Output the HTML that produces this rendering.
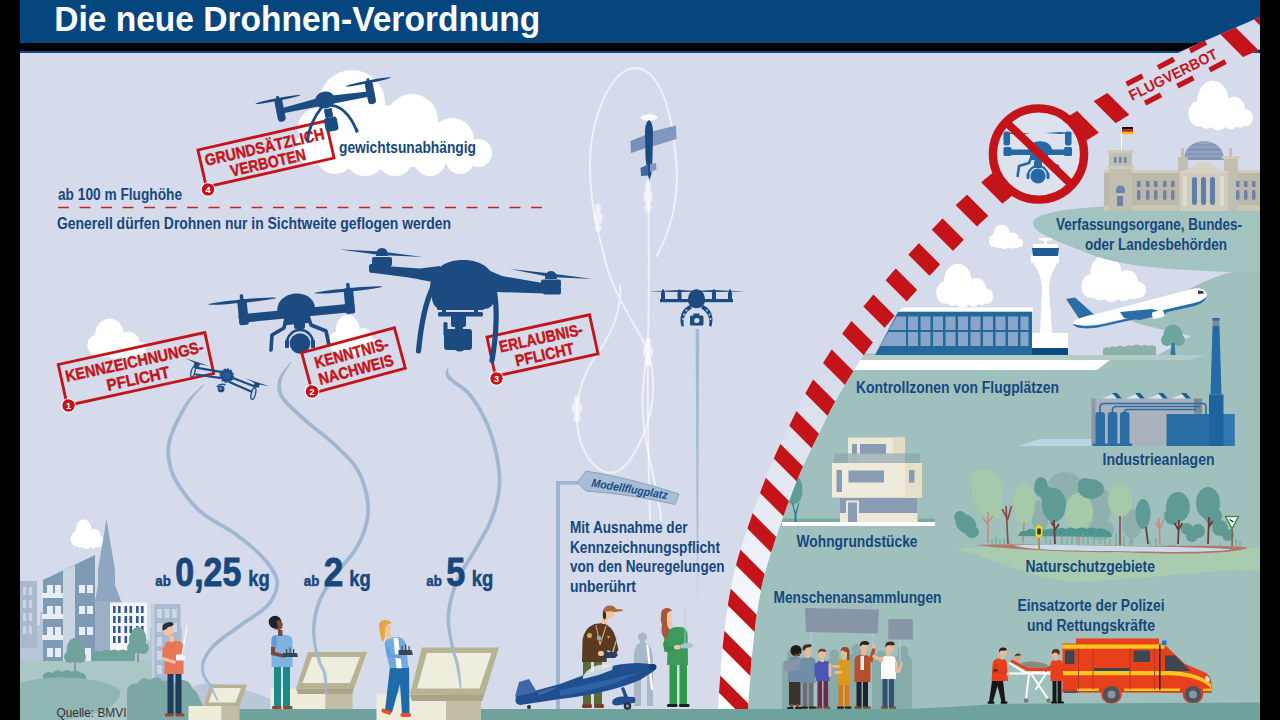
<!DOCTYPE html>
<html lang="de">
<head>
<meta charset="utf-8">
<title>Die neue Drohnen-Verordnung</title>
<style>
html,body{margin:0;padding:0;background:#000;}
body{width:1280px;height:720px;overflow:hidden;font-family:"Liberation Sans",sans-serif;}
svg{display:block;}
text{font-family:"Liberation Sans",sans-serif;}
.lbl{font-weight:bold;font-size:15.8px;fill:#17477d;}
.red{fill:#c4141a;}
.stamp{font-weight:bold;font-size:16.3px;fill:#c4141a;text-anchor:middle;stroke:#c4141a;stroke-width:0.45px;}
</style>
</head>
<body>
<svg width="1280" height="720" viewBox="0 0 1280 720">
<defs>
  <clipPath id="main"><rect x="20" y="0" width="1240" height="720"/></clipPath>
  <clipPath id="rightclip"><polygon points="733.0,716.0 733.0,714.4 733.1,712.9 733.1,711.3 733.2,709.8 733.2,708.2 733.2,706.7 733.3,705.1 733.3,703.5 733.4,701.8 733.5,700.0 733.6,698.2 733.7,696.3 733.9,694.5 734.0,692.6 734.2,690.6 734.3,688.6 734.5,686.5 734.7,684.4 734.8,682.2 735.0,680.0 735.2,677.8 735.3,675.5 735.5,673.3 735.6,671.0 735.8,668.7 736.0,666.2 736.2,663.6 736.4,660.8 736.7,657.8 737.0,654.5 737.4,650.9 737.8,647.0 738.2,642.9 738.7,638.5 739.1,634.0 739.7,629.5 740.2,624.9 740.8,620.4 741.4,616.0 742.0,611.8 742.6,607.6 743.3,603.5 744.0,599.5 744.7,595.4 745.5,591.4 746.2,587.5 747.1,583.5 747.9,579.6 748.8,575.6 749.8,571.8 750.8,567.9 751.8,564.0 752.9,560.2 754.1,556.4 755.3,552.7 756.5,548.9 757.7,545.2 758.9,541.4 760.2,537.7 761.4,534.0 762.6,530.3 763.9,526.6 765.1,522.9 766.4,519.3 767.7,515.6 769.0,512.0 770.3,508.3 771.6,504.7 772.9,501.1 774.3,497.5 775.7,493.9 777.0,490.3 778.4,486.7 779.9,483.0 781.3,479.4 782.7,475.9 784.2,472.3 785.6,468.8 787.1,465.3 788.6,461.9 790.1,458.5 791.6,455.2 793.2,451.9 794.7,448.7 796.3,445.4 797.8,442.2 799.4,439.0 801.0,435.8 802.6,432.6 804.2,429.4 805.8,426.1 807.4,422.9 809.0,419.6 810.6,416.4 812.2,413.1 813.8,409.8 815.4,406.6 817.1,403.4 818.8,400.2 820.5,397.0 822.2,393.9 824.0,390.7 825.8,387.6 827.6,384.5 829.4,381.5 831.2,378.4 833.1,375.4 835.0,372.3 836.8,369.3 838.8,366.2 840.7,363.2 842.6,360.1 844.6,357.1 846.6,354.0 848.6,351.0 850.6,347.9 852.6,345.0 854.6,342.0 856.7,339.1 858.8,336.2 860.8,333.5 862.9,330.7 865.0,328.1 867.2,325.4 869.3,322.8 871.4,320.2 873.6,317.7 875.7,315.1 877.9,312.6 880.0,310.0 882.1,307.4 884.2,304.9 886.3,302.4 888.4,299.9 890.5,297.4 892.7,294.9 894.8,292.5 896.9,290.0 899.1,287.5 901.2,285.0 903.4,282.5 905.6,280.0 907.9,277.5 910.1,275.0 912.3,272.5 914.6,270.0 916.9,267.5 919.1,265.0 921.4,262.5 923.8,260.0 926.1,257.5 928.4,255.0 930.7,252.5 933.1,250.0 935.5,247.5 937.9,245.0 940.2,242.5 942.6,240.0 945.1,237.5 947.5,235.0 949.9,232.5 952.3,230.0 954.7,227.6 957.1,225.1 959.5,222.6 962.0,220.1 964.5,217.6 967.1,215.1 969.7,212.6 972.5,210.0 975.4,207.4 978.3,204.7 981.4,202.0 984.5,199.3 987.7,196.6 990.9,193.8 994.2,191.1 997.4,188.4 1000.7,185.7 1004.0,183.0 1007.3,180.4 1010.6,177.8 1013.9,175.2 1017.3,172.6 1020.7,170.0 1024.1,167.4 1027.5,164.8 1031.0,162.2 1034.5,159.6 1038.0,157.0 1041.6,154.3 1045.2,151.6 1048.9,148.8 1052.6,146.1 1056.3,143.3 1060.0,140.5 1063.8,137.8 1067.5,135.1 1071.3,132.5 1075.0,130.0 1078.7,127.6 1082.5,125.2 1086.2,122.9 1090.0,120.7 1093.7,118.5 1097.5,116.3 1101.2,114.1 1105.0,111.9 1108.7,109.7 1112.5,107.5 1116.3,105.2 1120.0,102.9 1123.8,100.6 1127.6,98.3 1131.3,96.0 1135.1,93.8 1138.9,91.5 1142.6,89.3 1146.3,87.1 1150.0,85.0 1153.6,83.0 1157.0,81.0 1160.3,79.1 1163.6,77.3 1166.9,75.5 1170.3,73.6 1173.9,71.7 1177.6,69.8 1181.6,67.8 1186.0,65.7 1190.8,63.5 1195.9,61.1 1201.3,58.7 1206.9,56.3 1212.7,53.8 1218.5,51.3 1224.3,48.8 1230.1,46.3 1235.7,43.9 1241.0,41.6 1246.1,39.3 1251.2,37.1 1256.1,34.9 1261.0,32.8 1265.9,30.6 1270.7,28.5 1275.5,26.4 1280.3,24.3 1285.1,22.1 1290.0,20.0 1290.0,720.0"/></clipPath>
  <clipPath id="tapeclip"><polygon points="718.0,715.6 718.1,714.0 718.1,712.5 718.1,711.0 718.2,709.5 718.2,707.9 718.2,706.3 718.3,704.6 718.3,702.9 718.4,701.1 718.5,699.2 718.6,697.3 718.8,695.3 718.9,693.4 719.0,691.4 719.2,689.4 719.4,687.4 719.5,685.3 719.7,683.2 719.9,681.1 720.0,678.9 720.2,676.7 720.4,674.5 720.5,672.3 720.7,670.0 720.8,667.6 721.0,665.1 721.2,662.4 721.5,659.5 721.7,656.3 722.1,653.0 722.4,649.4 722.8,645.5 723.3,641.3 723.7,636.9 724.2,632.4 724.8,627.7 725.3,623.1 725.9,618.4 726.5,613.9 727.2,609.5 727.8,605.3 728.5,601.1 729.2,596.9 730.0,592.8 730.7,588.6 731.5,584.5 732.4,580.4 733.3,576.3 734.2,572.2 735.2,568.1 736.3,564.0 737.4,560.0 738.5,556.0 739.7,552.0 741.0,548.1 742.2,544.3 743.4,540.5 744.7,536.7 745.9,533.0 747.2,529.3 748.4,525.5 749.7,521.8 751.0,518.0 752.2,514.3 753.5,510.6 754.9,506.9 756.2,503.2 757.5,499.5 758.9,495.9 760.3,492.2 761.6,488.6 763.0,484.9 764.5,481.2 765.9,477.6 767.3,473.9 768.8,470.2 770.3,466.6 771.8,463.0 773.3,459.4 774.9,455.9 776.4,452.4 778.0,448.9 779.6,445.5 781.2,442.2 782.8,438.9 784.4,435.6 786.0,432.4 787.6,429.2 789.2,426.0 790.7,422.8 792.3,419.6 793.9,416.3 795.5,413.0 797.1,409.7 798.7,406.4 800.4,403.1 802.1,399.8 803.8,396.4 805.6,393.1 807.3,389.8 809.1,386.5 811.0,383.3 812.8,380.1 814.6,376.9 816.5,373.8 818.4,370.7 820.3,367.5 822.2,364.4 824.1,361.3 826.1,358.3 828.0,355.2 830.0,352.1 832.0,349.0 834.0,345.8 836.0,342.7 838.1,339.6 840.2,336.5 842.3,333.4 844.5,330.4 846.7,327.4 848.9,324.4 851.1,321.5 853.3,318.7 855.5,316.0 857.7,313.3 859.9,310.6 862.1,308.0 864.2,305.5 866.4,302.9 868.5,300.4 870.6,297.9 872.7,295.3 874.9,292.8 877.0,290.2 879.1,287.7 881.3,285.2 883.4,282.7 885.6,280.2 887.8,277.7 890.0,275.1 892.2,272.6 894.4,270.1 896.7,267.5 898.9,265.0 901.2,262.5 903.5,259.9 905.8,257.4 908.1,254.9 910.4,252.3 912.7,249.8 915.1,247.3 917.4,244.8 919.8,242.2 922.2,239.7 924.6,237.2 927.0,234.6 929.4,232.1 931.9,229.6 934.3,227.1 936.7,224.5 939.2,222.1 941.5,219.6 943.9,217.1 946.4,214.6 948.8,212.1 951.4,209.5 954.0,207.0 956.6,204.3 959.4,201.7 962.3,199.0 965.3,196.3 968.4,193.5 971.5,190.7 974.7,188.0 977.9,185.2 981.2,182.4 984.5,179.6 987.9,176.8 991.2,174.1 994.6,171.3 997.9,168.6 1001.3,165.9 1004.7,163.3 1008.2,160.7 1011.6,158.1 1015.0,155.4 1018.5,152.8 1022.0,150.2 1025.5,147.6 1029.0,145.0 1032.6,142.3 1036.2,139.6 1039.8,136.8 1043.6,134.0 1047.3,131.2 1051.2,128.4 1055.0,125.6 1058.9,122.9 1062.8,120.2 1066.7,117.5 1070.6,114.9 1074.6,112.5 1078.4,110.1 1082.3,107.8 1086.1,105.5 1089.9,103.3 1093.7,101.1 1097.4,99.0 1101.1,96.8 1104.8,94.6 1108.5,92.4 1112.2,90.1 1116.0,87.8 1119.8,85.5 1123.6,83.2 1127.4,80.9 1131.2,78.6 1135.0,76.4 1138.8,74.1 1142.5,72.0 1146.1,69.9 1149.6,68.0 1152.9,66.1 1156.3,64.2 1159.7,62.3 1163.2,60.4 1166.9,58.4 1170.8,56.4 1175.0,54.3 1179.6,52.2 1184.5,49.8 1189.7,47.5 1195.2,45.0 1200.9,42.5 1206.8,40.0 1212.6,37.5 1218.4,35.0 1224.2,32.6 1229.7,30.2 1235.0,27.9 1240.1,25.6 1245.1,23.4 1250.1,21.2 1255.0,19.1 1259.8,16.9 1264.6,14.8 1269.4,12.7 1274.2,10.6 1279.1,8.4 1283.9,6.3 1296.1,33.7 1291.2,35.9 1286.4,38.0 1281.5,40.1 1276.7,42.2 1271.9,44.4 1267.1,46.5 1262.2,48.7 1257.2,50.8 1252.2,53.1 1247.0,55.3 1241.6,57.7 1236.0,60.1 1230.3,62.6 1224.4,65.1 1218.6,67.6 1212.9,70.0 1207.3,72.5 1202.0,74.8 1197.0,77.1 1192.4,79.2 1188.2,81.3 1184.4,83.2 1180.8,85.1 1177.4,86.8 1174.1,88.6 1170.9,90.4 1167.7,92.2 1164.4,94.0 1161.0,96.0 1157.5,98.0 1153.8,100.1 1150.2,102.2 1146.6,104.4 1142.9,106.6 1139.1,108.9 1135.4,111.2 1131.6,113.5 1127.8,115.8 1124.0,118.1 1120.2,120.4 1116.4,122.7 1112.5,124.9 1108.8,127.1 1105.0,129.3 1101.3,131.4 1097.6,133.6 1094.0,135.8 1090.4,138.0 1086.8,140.2 1083.3,142.5 1079.7,144.9 1076.2,147.4 1072.5,150.0 1068.9,152.6 1065.2,155.3 1061.5,158.1 1057.9,160.8 1054.2,163.6 1050.6,166.3 1047.0,169.0 1043.4,171.7 1039.9,174.3 1036.5,176.8 1033.1,179.4 1029.7,181.9 1026.4,184.5 1023.1,187.0 1019.9,189.6 1016.6,192.1 1013.4,194.7 1010.2,197.3 1007.0,199.9 1003.8,202.6 1000.6,205.3 997.4,208.0 994.3,210.6 991.3,213.3 988.3,215.9 985.4,218.5 982.7,221.0 980.0,223.5 977.5,225.9 975.0,228.3 972.6,230.7 970.2,233.1 967.8,235.6 965.5,238.0 963.1,240.5 960.7,242.9 958.3,245.5 955.8,247.9 953.4,250.4 951.1,252.9 948.7,255.4 946.3,257.8 944.0,260.3 941.7,262.8 939.4,265.2 937.1,267.7 934.8,270.2 932.5,272.7 930.2,275.1 928.0,277.6 925.7,280.1 923.5,282.5 921.3,285.0 919.1,287.5 916.9,289.9 914.7,292.4 912.5,294.9 910.4,297.3 908.3,299.8 906.2,302.2 904.1,304.7 902.0,307.1 899.9,309.6 897.8,312.1 895.7,314.5 893.6,317.0 891.5,319.6 889.4,322.2 887.2,324.7 885.1,327.3 883.0,329.8 880.9,332.4 878.8,334.9 876.8,337.4 874.8,340.0 872.8,342.5 870.8,345.1 868.9,347.8 866.9,350.6 865.0,353.4 863.0,356.3 861.1,359.2 859.1,362.2 857.2,365.2 855.3,368.2 853.3,371.2 851.4,374.2 849.6,377.2 847.7,380.2 845.9,383.2 844.1,386.2 842.3,389.2 840.5,392.1 838.8,395.1 837.0,398.1 835.3,401.2 833.7,404.2 832.0,407.2 830.4,410.3 828.8,413.4 827.2,416.6 825.6,419.8 824.0,423.0 822.5,426.2 820.9,429.5 819.3,432.7 817.7,436.0 816.1,439.3 814.5,442.5 812.9,445.7 811.3,448.9 809.8,452.0 808.2,455.2 806.7,458.3 805.2,461.5 803.8,464.7 802.3,467.9 800.9,471.2 799.5,474.6 798.0,478.0 796.6,481.5 795.2,485.0 793.8,488.5 792.4,492.1 791.1,495.7 789.7,499.2 788.3,502.8 787.0,506.3 785.7,509.9 784.4,513.5 783.1,517.0 781.8,520.6 780.6,524.2 779.3,527.8 778.1,531.4 776.9,535.1 775.6,538.7 774.4,542.4 773.2,546.2 771.9,549.9 770.7,553.5 769.5,557.2 768.4,560.9 767.3,564.5 766.2,568.1 765.2,571.7 764.3,575.4 763.4,579.1 762.5,582.8 761.7,586.6 760.9,590.4 760.2,594.2 759.5,598.1 758.8,602.0 758.1,606.0 757.5,610.0 756.8,614.0 756.2,618.1 755.6,622.4 755.1,626.7 754.6,631.2 754.0,635.7 753.6,640.1 753.1,644.4 752.7,648.5 752.3,652.4 751.9,656.0 751.6,659.2 751.3,662.1 751.1,664.8 750.9,667.3 750.7,669.7 750.6,672.0 750.4,674.3 750.3,676.5 750.1,678.8 750.0,681.1 749.8,683.4 749.6,685.6 749.4,687.7 749.3,689.8 749.1,691.8 749.0,693.7 748.8,695.6 748.7,697.4 748.6,699.1 748.5,700.8 748.4,702.5 748.3,704.1 748.3,705.6 748.2,707.1 748.2,708.6 748.1,710.1 748.1,711.7 748.1,713.2 748.0,714.8 748.0,716.4"/></clipPath>
  <linearGradient id="tapebg" x1="0" y1="0" x2="0" y2="1" gradientUnits="objectBoundingBox">
    <stop offset="0" stop-color="#d5dbea"/>
    <stop offset="0.5" stop-color="#d5dbea"/>
    <stop offset="0.7" stop-color="#e6eaf3"/>
    <stop offset="0.9" stop-color="#fbfcfe"/>
    <stop offset="1" stop-color="#ffffff"/>
  </linearGradient>
  <linearGradient id="polefade" x1="0" y1="329" x2="0" y2="610" gradientUnits="userSpaceOnUse"><stop offset="0" stop-color="#a3b8d3"/><stop offset="0.7" stop-color="#a3b8d3" stop-opacity="0.9"/><stop offset="1" stop-color="#a3b8d3" stop-opacity="0"/></linearGradient>
  <g id="cloud">
    <circle cx="38" cy="24" r="23"/><circle cx="69" cy="37" r="17"/><circle cx="17" cy="40" r="15"/><circle cx="46" cy="45" r="15"/><circle cx="87" cy="45" r="10"/><circle cx="29" cy="45" r="13"/><circle cx="64" cy="47" r="12"/><circle cx="78" cy="47" r="10"/>
  </g>
</defs>
<rect x="0" y="0" width="1280" height="720" fill="#000"/>
<g clip-path="url(#main)">
<!-- sky -->
<rect x="20" y="0" width="1240" height="720" fill="#d5dbea"/>

<!-- teal flight-ban zone -->
<polygon points="748.0,716.4 748.0,714.8 748.1,713.2 748.1,711.7 748.1,710.1 748.2,708.6 748.2,707.1 748.3,705.6 748.3,704.1 748.4,702.5 748.5,700.8 748.6,699.1 748.7,697.4 748.8,695.6 749.0,693.7 749.1,691.8 749.3,689.8 749.4,687.7 749.6,685.6 749.8,683.4 750.0,681.1 750.1,678.8 750.3,676.5 750.4,674.3 750.6,672.0 750.7,669.7 750.9,667.3 751.1,664.8 751.3,662.1 751.6,659.2 751.9,656.0 752.3,652.4 752.7,648.5 753.1,644.4 753.6,640.1 754.0,635.7 754.6,631.2 755.1,626.7 755.6,622.4 756.2,618.1 756.8,614.0 757.5,610.0 758.1,606.0 758.8,602.0 759.5,598.1 760.2,594.2 760.9,590.4 761.7,586.6 762.5,582.8 763.4,579.1 764.3,575.4 765.2,571.7 766.2,568.1 767.3,564.5 768.4,560.9 769.5,557.2 770.7,553.5 771.9,549.9 773.2,546.2 774.4,542.4 775.6,538.7 776.9,535.1 778.1,531.4 779.3,527.8 780.6,524.2 781.8,520.6 783.1,517.0 784.4,513.5 785.7,509.9 787.0,506.3 788.3,502.8 789.7,499.2 791.1,495.7 792.4,492.1 793.8,488.5 795.2,485.0 796.6,481.5 798.0,478.0 799.5,474.6 800.9,471.2 802.3,467.9 803.8,464.7 805.2,461.5 806.7,458.3 808.2,455.2 809.8,452.0 811.3,448.9 812.9,445.7 814.5,442.5 816.1,439.3 817.7,436.0 819.3,432.7 820.9,429.5 822.5,426.2 824.0,423.0 825.6,419.8 827.2,416.6 828.8,413.4 830.4,410.3 832.0,407.2 833.7,404.2 835.3,401.2 837.0,398.1 838.8,395.1 840.5,392.1 842.3,389.2 844.1,386.2 845.9,383.2 847.7,380.2 849.6,377.2 851.4,374.2 853.3,371.2 855.3,368.2 857.2,365.2 859.1,362.2 861.1,359.2 863.0,356.3 865.0,353.4 1260.0,357.0 1260.0,720.0 733.0,720.0" fill="#9fc0bd"/>
<path d="M1260 268 L1232 272 C1205 279 1192 288 1172 299 C1152 308 1130 313 1127 319 C1140 326 1172 331 1191 336 C1176 344 1166 352 1150 358 L1260 358 Z" fill="#9fc0bd"/>
<!--SKYSTART-->
<!-- ===== clouds ===== -->
<g fill="#fff">
  <!-- big cloud behind drone 4 -->
  <circle cx="352" cy="103" r="33"/><circle cx="318" cy="128" r="20"/><circle cx="312" cy="148" r="17"/>
  <circle cx="335" cy="155" r="19"/><circle cx="365" cy="155" r="21"/><circle cx="395" cy="158" r="18"/>
  <circle cx="412" cy="120" r="26"/><circle cx="430" cy="160" r="16"/><circle cx="452" cy="140" r="22"/>
  <circle cx="478" cy="153" r="14"/><circle cx="460" cy="160" r="14"/><rect x="320" y="122" width="120" height="45"/><circle cx="385" cy="125" r="20"/>
  <!-- cloud behind stamp 1 -->
  <use href="#cloud" transform="translate(86,318) scale(0.62,0.68)"/>
  <!-- cloud behind stamp 2 -->
  <use href="#cloud" transform="translate(328,314) scale(0.52,0.7)"/>
  <!-- city cloud -->
  <use href="#cloud" transform="translate(70,519) scale(0.36,0.5)"/>
  <!-- top right cloud -->
  <use href="#cloud" transform="translate(1187,80) scale(0.68,0.84)"/>
  <!-- small cloud -->
  <use href="#cloud" transform="translate(988,224) scale(0.36,0.42)"/>
  <!-- airport clouds -->
  <use href="#cloud" transform="translate(935,263) scale(0.6,0.74)"/>
  <use href="#cloud" transform="translate(1080,254) scale(0.68,0.8)"/>
</g>
<!-- ===== Reichstag blob ===== -->
<path d="M1033 222 C1040 206 1120 204 1260 204 L1260 272 L1232 272 C1180 270 1120 268 1085 252 C1060 242 1030 232 1033 222Z" fill="#a3c3c0"/>
<!-- Reichstag -->
<g>
  <rect x="1121" y="127" width="1" height="24" fill="#fff"/>
  <rect x="1122" y="127" width="11" height="2.4" fill="#111"/><rect x="1122" y="129.4" width="11" height="2.4" fill="#d0101a"/><rect x="1122" y="131.8" width="11" height="2.4" fill="#f2c200"/>
  <!-- dome -->
  <path d="M1184 160 C1184 135 1224 135 1224 160Z" fill="#8497b6"/>
  <path d="M1186 152h36M1185 156h38M1189 147h30M1194 143h20" stroke="#a9b8d0" stroke-width="0.8"/>
  <!-- main body -->
  <rect x="1104" y="170" width="156" height="41" fill="#bcb8a9"/>
  <rect x="1104" y="170" width="156" height="3" fill="#cfcbbd"/>
  <rect x="1104" y="205" width="156" height="6" fill="#c9c5b7"/>
  <!-- left tower -->
  <rect x="1109" y="151" width="23" height="60" fill="#c2beb0"/>
  <rect x="1107" y="150" width="27" height="3" fill="#cfcbbd"/>
  <rect x="1107" y="166" width="27" height="3" fill="#cfcbbd"/>
  <rect x="1114" y="157" width="2.5" height="6" fill="#6b84a8"/><rect x="1119" y="157" width="2.5" height="6" fill="#6b84a8"/><rect x="1124" y="157" width="2.5" height="6" fill="#6b84a8"/>
  <path d="M1116 190 a4.5 4.5 0 0 1 9 0 v3 h-9z" fill="#6b84a8"/>
  <rect x="1117" y="196" width="6" height="10" fill="#6b84a8"/>
  <!-- right tower -->
  <rect x="1224" y="157" width="14" height="54" fill="#c2beb0"/>
  <rect x="1222" y="156" width="18" height="3" fill="#cfcbbd"/>
  <rect x="1229" y="148" width="3" height="9" fill="#c2beb0"/>
  <rect x="1178" y="157" width="10" height="54" fill="#c2beb0"/>
  <rect x="1181" y="148" width="3" height="9" fill="#c2beb0"/>
  <!-- portico -->
  <rect x="1180" y="172" width="48" height="39" fill="#cfcbbd"/>
  <path d="M1178 173 L1204 161 L1230 173Z" fill="#d6d2c5"/>
  <rect x="1192" y="177" width="5" height="28" rx="2.5" fill="#5f7ea8"/><rect x="1201" y="177" width="5" height="28" rx="2.5" fill="#5f7ea8"/><rect x="1210" y="177" width="5" height="28" rx="2.5" fill="#5f7ea8"/>
  <rect x="1183" y="176" width="4" height="30" fill="#dedacd"/><rect x="1220" y="176" width="4" height="30" fill="#dedacd"/>
  <!-- windows rows -->
  <g fill="#6b84a8">
    <rect x="1137" y="181" width="3.5" height="6"/><rect x="1146" y="181" width="3.5" height="6"/><rect x="1154" y="181" width="3.5" height="6"/><rect x="1163" y="181" width="3.5" height="6"/><rect x="1171" y="181" width="3.5" height="6"/>
    <rect x="1137" y="190" width="3.5" height="10" rx="1.7"/><rect x="1146" y="190" width="3.5" height="10" rx="1.7"/><rect x="1154" y="190" width="3.5" height="10" rx="1.7"/><rect x="1163" y="190" width="3.5" height="10" rx="1.7"/><rect x="1171" y="190" width="3.5" height="10" rx="1.7"/>
    <rect x="1236" y="181" width="3.5" height="6"/><rect x="1244" y="181" width="3.5" height="6"/><rect x="1252" y="181" width="3.5" height="6"/>
    <rect x="1236" y="190" width="3.5" height="10" rx="1.7"/><rect x="1244" y="190" width="3.5" height="10" rx="1.7"/><rect x="1252" y="190" width="3.5" height="10" rx="1.7"/>
  </g>
</g>
<text class="lbl" x="1056" y="230" textLength="186" lengthAdjust="spacingAndGlyphs">Verfassungsorgane, Bundes-</text>
<text class="lbl" x="1085" y="250" textLength="142" lengthAdjust="spacingAndGlyphs">oder Landesbehörden</text>

<!-- ===== airport ===== -->
<g>
  <!-- tower -->
  <path d="M1040 333 L1042 290 C1042 275 1036 268 1033 262 L1058 262 C1055 268 1049 275 1049 290 L1052 333Z" fill="#fff"/>
  <rect x="1031" y="255" width="28" height="8" fill="#fff"/>
  <path d="M1032 248 h27 l-1 8 h-25z" fill="#1d5c94"/>
  <rect x="1033" y="244" width="25" height="4" fill="#fff"/>
  <rect x="1044" y="239" width="3" height="6" fill="#fff"/><rect x="1039" y="238" width="13" height="2.5" rx="1" fill="#fff"/>
  <rect x="1031" y="333" width="37" height="15" fill="#fff"/>
  <rect x="1031" y="348" width="37" height="7" fill="#0d4a80"/>
  <!-- building -->
  <polygon points="898,311.5 1032,311.5 1032,355 875,355" fill="#23699c"/>
  <polygon points="902,307.5 1033,307.5 1033,311.5 898,311.5" fill="#fff"/>
  <g fill="#89a5c9">
    <polygon points="896.5,316.5 906,316.5 906,330 889,330"/>
    <rect x="908" y="316.5" width="10" height="13.5"/><rect x="920.5" y="316.5" width="10" height="13.5"/><rect x="933" y="316.5" width="10" height="13.5"/><rect x="945.5" y="316.5" width="10" height="13.5"/><rect x="958" y="316.5" width="10" height="13.5"/><rect x="970.5" y="316.5" width="10" height="13.5"/><rect x="983" y="316.5" width="10" height="13.5"/><rect x="995.5" y="316.5" width="10" height="13.5"/><rect x="1008" y="316.5" width="10" height="13.5"/><rect x="1020.5" y="316.5" width="8" height="13.5"/>
    <polygon points="888,332 906,332 906,346 880,346"/>
    <rect x="908" y="332" width="10" height="14"/><rect x="920.5" y="332" width="10" height="14"/><rect x="933" y="332" width="10" height="14"/><rect x="945.5" y="332" width="10" height="14"/><rect x="958" y="332" width="10" height="14"/><rect x="970.5" y="332" width="10" height="14"/><rect x="983" y="332" width="10" height="14"/><rect x="995.5" y="332" width="10" height="14"/><rect x="1008" y="332" width="10" height="14"/><rect x="1020.5" y="332" width="8" height="14"/>
  </g>
  <!-- hedge + tree -->
  <path d="M1103 355 v-6 q3 -3 6 -1 q3 -3 7 -1 q4 -3 8 0 q4 -3 8 -1 q5 -3 9 0 q4 -2 8 0 q4 -2 7 1 v8z" fill="#8cb1a9"/>
  <ellipse cx="1173" cy="335" rx="9.5" ry="10.5" fill="#6ea59e"/><circle cx="1167" cy="340" r="6" fill="#6ea59e"/><circle cx="1179" cy="340" r="6" fill="#6ea59e"/>
  <path d="M1171.5 343 h3 l1 12 h-5z" fill="#2b7c9a"/>
</g>
<!-- airport ground strips -->
<polygon points="700,355 1205,355 1190,360 700,360" fill="#b4ccc8" clip-path="url(#rightclip)"/>
<!-- plane -->
<g>
  <path d="M1066 299 L1075 297.5 L1098 318 L1082 323Z" fill="#2a6da8"/>
  <path d="M1073 323 C1074 319 1085 316 1100 313 L1192 289 C1200 287 1206 290 1207 295 C1206 300 1200 302 1190 304 L1100 324 C1085 327 1072 327 1073 323Z" fill="#fff"/>
  <path d="M1073 324 C1085 327 1095 326 1110 322.5 L1190 304 C1200 302 1205 299 1207 296 C1205 302 1200 305 1190 307 L1100 327 C1085 330 1074 328 1073 324Z" fill="#2a6da8"/>
  <path d="M1120 312 L1152 309 L1168 313 L1140 320 L1124 318Z" fill="#2a6da8"/>
  <rect x="1152" y="311" width="12" height="7" rx="2" fill="#fff" transform="rotate(-14 1158 314)"/>
  <path d="M1198 290.5 l5 0.5 l1 2.5 l-6 0.5z" fill="#1d3d66"/>
</g>
<!--SKYEND-->
<!--TEALSTART-->
<!-- airport apron -->
<polygon points="700,360 1110,360 1097,370 700,370" fill="#fff" clip-path="url(#rightclip)"/>
<text class="lbl" x="856" y="393" textLength="203" lengthAdjust="spacingAndGlyphs">Kontrollzonen von Flugplätzen</text>

<!-- ===== factory ===== -->
<g>
  <polygon points="1018,446 1040,439 1092,439 1092,446" fill="#bcd5e3"/>
  <rect x="1091.5" y="398.5" width="111" height="47.5" fill="#a9b1ba"/>
  <rect x="1091.5" y="398.5" width="4" height="47.5" fill="#8d98a5"/>
  <!-- sawtooth roof -->
  <g>
    <polygon points="1102,398.5 1116,393 1122,398.5" fill="#d7e4f2"/><polygon points="1112,393 1117,393 1122,398.5 1117,398.5" fill="#1d5c94"/>
    <polygon points="1125,398.5 1139,393 1145,398.5" fill="#d7e4f2"/><polygon points="1135,393 1140,393 1145,398.5 1140,398.5" fill="#1d5c94"/>
    <polygon points="1148,398.5 1162,393 1168,398.5" fill="#d7e4f2"/><polygon points="1158,393 1163,393 1168,398.5 1163,398.5" fill="#1d5c94"/>
    <polygon points="1171,398.5 1185,393 1191,398.5" fill="#d7e4f2"/><polygon points="1181,393 1186,393 1191,398.5 1186,398.5" fill="#1d5c94"/>
  </g>
  <rect x="1194" y="398.5" width="8" height="15" fill="#7f8791"/>
  <!-- pipes -->
  <g fill="none" stroke="#2a6ea6" stroke-width="1.6">
    <path d="M1100 413 V407 Q1100 403.5 1104 403.5 H1203 Q1206 403.5 1206 407 V414"/>
    <path d="M1112.5 413 V409.5 Q1112.5 406.5 1116 406.5 H1200"/>
    <path d="M1124.5 413 V412 Q1124.5 409.5 1128 409.5 H1196"/>
  </g>
  <!-- tanks -->
  <g fill="#2a6ea6">
    <rect x="1095.5" y="412" width="9.5" height="34" rx="3"/><rect x="1107.8" y="412" width="9.5" height="34" rx="3"/><rect x="1120" y="412" width="9.5" height="34" rx="3"/>
    <rect x="1093" y="443.5" width="39" height="2.5"/>
  </g>
  <rect x="1166.5" y="414" width="68" height="32" fill="#2a6ea6"/>
  <rect x="1223" y="414" width="11.5" height="32" fill="#2f78b2"/>
  <!-- chimney -->
  <polygon points="1212.5,326 1219.5,326 1221.5,394.5 1210.5,394.5" fill="#256ba6"/>
  <rect x="1212.5" y="318" width="7" height="8" fill="#7d8c9d"/><rect x="1212.5" y="318" width="7" height="2.5" fill="#256ba6"/>
  <rect x="1209" y="394.5" width="14.5" height="51.5" fill="#1f639c"/>
</g>
<text class="lbl" x="1102.5" y="464.5" textLength="112" lengthAdjust="spacingAndGlyphs">Industrieanlagen</text>

<!-- ===== house ===== -->
<g>
  <rect x="782" y="518.5" width="153" height="3.5" fill="#7fa9a5"/>
  <rect x="782" y="522" width="153" height="4" fill="#fff"/>
  <!-- tree -->
  <ellipse cx="796" cy="490" rx="6.5" ry="13.5" fill="#5f9d97"/><ellipse cx="793" cy="496" rx="5" ry="9" fill="#5f9d97"/>
  <path d="M793 503 L795.5 512 L798.5 503 L799.5 503 L796.5 514 L796.5 522 L794.5 522 L794.5 514 L792 503Z" fill="#2b7c9a"/>
  <!-- top floor -->
  <rect x="848" y="437.5" width="57" height="26" fill="#ece8d6"/><rect x="893" y="437.5" width="12" height="26" fill="#e2dcc4"/>
  <rect x="860" y="444" width="26" height="10.5" fill="#8a9cb3"/><rect x="852" y="444" width="5" height="18.5" fill="#8a9cb3"/>
  <!-- railing -->
  <rect x="834" y="453.5" width="86" height="9.5" fill="#8fa9ae" opacity="0.85"/>
  <rect x="848" y="453.5" width="57" height="9.5" fill="#b9c3c4" opacity="0.55"/>
  <!-- middle floor -->
  <rect x="832" y="463" width="90" height="34.5" fill="#efebda"/><rect x="905" y="463" width="17" height="34.5" fill="#e6e0c9"/>
  <rect x="848.5" y="470.5" width="35.5" height="12" fill="#8a9cb3"/>
  <rect x="836.5" y="470" width="5.5" height="22" fill="#8a9cb3"/>
  <rect x="909" y="470" width="5.5" height="12.5" fill="#8a9cb3"/>
  <!-- ground floor -->
  <rect x="840" y="497.5" width="77.5" height="24.5" fill="#ece8d6"/>
  <rect x="840" y="498" width="77.5" height="15" fill="#8a9cb3"/>
  <rect x="846" y="500.5" width="13" height="21.5" fill="#ece8d6"/><rect x="848" y="502.5" width="9" height="19.5" fill="#8a9cb3"/>
</g>
<text class="lbl" x="796.5" y="547" textLength="121" lengthAdjust="spacingAndGlyphs">Wohngrundstücke</text>
<text class="lbl" x="773.5" y="602.5" textLength="168" lengthAdjust="spacingAndGlyphs">Menschenansammlungen</text>

<!-- ===== nature reserve ===== -->
<g>
  <path d="M954 549 C990 545 1100 546 1260 548 L1260 571 C1200 568 1140 582 1075 581 C1030 580 990 556 954 549Z" fill="#a9ccb1"/>
  <!-- back trees grey-teal -->
  <g fill="#8fb1ae">
    <ellipse cx="1065" cy="486" rx="17" ry="14"/><ellipse cx="1058" cy="500" rx="12" ry="14"/><ellipse cx="1100" cy="506" rx="12" ry="19"/><ellipse cx="1100" cy="530" rx="14" ry="10"/>
    <ellipse cx="1132" cy="524" rx="10" ry="15"/><ellipse cx="1040" cy="516" rx="9" ry="16"/>
    <rect x="1098.5" y="520" width="3" height="24"/><rect x="1131" y="530" width="2.5" height="15"/>
  </g>
  <!-- light green trees -->
  <g fill="#a6caa9">
    <ellipse cx="987" cy="492" rx="15" ry="22"/><ellipse cx="980" cy="480" rx="10" ry="10"/><ellipse cx="993" cy="510" rx="10" ry="10"/>
    <ellipse cx="1024" cy="504" rx="11" ry="20"/><ellipse cx="1079" cy="512" rx="14" ry="19"/><ellipse cx="1120" cy="500" rx="12" ry="17"/>
  </g>
  <g stroke="#c98a7a" stroke-width="1.6" fill="none">
    <path d="M988 512 L988 543 M988 525 l-5 -7 M988 522 l5 -6"/><path d="M1024 522 L1023 543"/><path d="M1079 528 V545"/>
    <path d="M1159 518 l1 27 M1160 528 l4 -9 M1160 530 l-4 -8"/>
  </g>
  <g stroke="#8c4a44" stroke-width="1.6" fill="none">
    <path d="M1006 506 l2 38 M1007.5 520 l4 -14 M1007 518 l-5 -9"/><path d="M1120 516 V545"/>
  </g>
  <!-- teal trees -->
  <g fill="#5f9a95">
    <ellipse cx="966" cy="524" rx="11" ry="9" transform="rotate(35 966 524)"/><ellipse cx="960" cy="517" rx="6" ry="6"/><ellipse cx="972" cy="532" rx="7" ry="6"/>
    <ellipse cx="1041" cy="487" rx="7" ry="10"/><ellipse cx="1054" cy="505" rx="12" ry="17"/><ellipse cx="1048" cy="495" rx="8" ry="8"/>
    <ellipse cx="1091" cy="489" rx="13" ry="10"/><ellipse cx="1085" cy="484" rx="7" ry="6"/>
    <ellipse cx="1143" cy="514" rx="7.5" ry="15"/><ellipse cx="1178" cy="507" rx="12" ry="15"/><ellipse cx="1173" cy="516" rx="9" ry="9"/>
    <ellipse cx="1208" cy="503" rx="12" ry="16"/><ellipse cx="1213" cy="516" rx="9" ry="9"/>
    <circle cx="1187" cy="529" r="6"/><circle cx="1198" cy="531" r="7"/><circle cx="1220" cy="528" r="8"/><circle cx="1228" cy="535" r="6"/><circle cx="1192" cy="536" r="6"/>
    <path d="M1018 536 q2 -6 8 -5 q4 -4 9 -1 q5 -3 10 0 q6 -3 11 0 q5 -4 10 -1 q5 -3 10 0 q6 -3 11 0 q5 -3 10 0 q5 -2 9 1 q5 1 6 7z" fill="#4f948e"/>
  </g>
  <g stroke="#6b3b3b" stroke-width="1.8" fill="none">
    <path d="M1054 520 l1 24 M1055 530 l4 -6 M1055 528 l-4 -6"/><path d="M1146 527 l2 17"/><path d="M1179 520 l-1 24 M1178.500 530 l4 -7 M1178.500 530 l-4 -7"/><path d="M1209 517 l-1 27 M1208.500 528 l4 -7"/>
  </g>
  <!-- reeds -->
  <g stroke="#6fa58f" stroke-width="1">
    <path d="M992 548v-9M996 548v-11M1000 548v-8M1004 548v-10M1010 548v-7M1046 548v-12M1050 548v-9M1062 548v-14M1067 548v-10M1072 548v-15M1077 548v-12M1083 548v-16M1088 548v-13M1094 548v-15M1105 548v-14M1110 548v-10M1116 548v-15M1124 548v-12M1130 548v-9M1150 548v-8M1156 548v-10M1170 552v-8M1174 552v-7M1215 552v-7M1220 552v-9M1236 548v-9M1240 548v-7"/>
  </g>
  <!-- water -->
  <path d="M976 545 C1000 548 1060 553 1120 552 C1180 555 1230 554 1248 548 C1240 545 1180 546 1140 546 C1080 545 1010 544 976 545Z" fill="#b5766a"/>
  <path d="M1014 545.500 C1050 543.500 1100 546 1140 546.500 C1180 547 1220 548 1232 549.500 C1200 553 1150 552 1110 551 C1070 551 1030 550 1014 545.500Z" fill="#c9dcec"/>
  <!-- signs -->
  <rect x="1038" y="536" width="2" height="14" fill="#b98a5a"/>
  <path d="M1035.500 527.500 l3.500 -3 l3.500 3 v8 l-3.500 2.500 l-3.500 -2.500z" fill="#f6db00"/><rect x="1037.200" y="528.500" width="3.600" height="6" rx="1" fill="#2b2b2b"/>
  <rect x="1231.300" y="528" width="1.600" height="18" fill="#8c6a4a"/>
  <polygon points="1225.500,516.500 1238.500,516.500 1232,528.500" fill="#fff" stroke="#3d8f4a" stroke-width="1.500"/>
  <path d="M1229.500 519.500 l4 2.500" stroke="#222" stroke-width="1.200"/>
</g>
<text class="lbl" x="1025.500" y="571.500" textLength="129.500" lengthAdjust="spacingAndGlyphs">Naturschutzgebiete</text>
<text class="lbl" x="1017.500" y="610.500" textLength="147" lengthAdjust="spacingAndGlyphs">Einsatzorte der Polizei</text>
<text class="lbl" x="1027" y="630.500" textLength="128" lengthAdjust="spacingAndGlyphs">und Rettungskräfte</text>
<!--TEALEND-->
<!--TEAL2START-->
<!-- ===== crowd ===== -->
<g>
  <!-- shadows -->
  <g fill="#86aba9">
    <path d="M782 709 v-40 q0 -8 5 -9 v-6 a4.500 4.500 0 0 1 9 0 v6 q6 1 6 9 v40z"/>
    <path d="M826 709 v-44 q0 -6 5 -7 a5 5 0 1 1 7 0 q5 1 5 7 v44z"/>
    <path d="M848 709 v-48 q0 -7 5 -8 a5.500 5.500 0 1 1 8 0 q5 1 5 8 v48z"/>
    <path d="M872 709 v-42 q0 -7 5 -8 a5 5 0 1 1 8 0 q5 1 5 8 v42z"/>
    <path d="M894 709 v-46 q0 -7 5 -8 a5.500 5.500 0 1 1 8 0 q5 1 5 8 v46z"/>
  </g>
  <!-- banners -->
  <rect x="810.300" y="632" width="1.400" height="24" fill="#b9c4cf"/><rect x="871.600" y="632" width="1.400" height="18" fill="#b9c4cf"/>
  <polygon points="805,608 879,609.500 877.500,633.500 806,632" fill="#8795a6"/>
  <rect x="899.300" y="639" width="1.400" height="24" fill="#b9c4cf"/>
  <rect x="888.300" y="619" width="24.500" height="20.500" fill="#8795a6"/>
  <!-- person 1: dark skin, afro, grey-blue top, dark skirt -->
  <g>
    <rect x="789" y="680" width="11.500" height="25" fill="#3a302c"/>
    <rect x="790" y="704" width="3" height="4" fill="#7a4a3a"/><rect x="796" y="704" width="3" height="4" fill="#7a4a3a"/>
    <rect x="787" y="707" width="6.500" height="2" rx="1" fill="#222"/><rect x="795" y="707" width="6.500" height="2" rx="1" fill="#222"/>
    <path d="M788 682 v-20 q0 -5 5 -5 h4 q5 0 5 5 v20z" fill="#6f8da6"/>
    <circle cx="796.500" cy="652.500" r="4" fill="#7a4a3a"/>
    <circle cx="796" cy="650.500" r="5.600" fill="#1c1c1c"/>
    <path d="M794 653 a3.500 3.500 0 0 0 6 -1 v4 h-5z" fill="#7a4a3a"/>
    <polygon points="783.500,661.500 800,658.500 802,669 784.500,672" fill="#8795a6"/>
  </g>
  <!-- person 2 grey-blue sweater -->
  <g>
    <rect x="802.500" y="680" width="5" height="27" fill="#6a7078"/><rect x="808.500" y="680" width="5" height="27" fill="#6a7078"/>
    <rect x="800.500" y="706.500" width="7.500" height="2.300" rx="1" fill="#222"/><rect x="808.500" y="706.500" width="7.500" height="2.300" rx="1" fill="#222"/>
    <path d="M800.500 683 v-20 q0 -6 5 -6 h5 q5 0 5 6 v20z" fill="#6d8ea6"/>
    <rect x="805.500" y="653" width="4" height="5" fill="#e9b99a"/>
    <circle cx="807" cy="650" r="4.200" fill="#e9b99a"/>
    <path d="M802.500 649.500 q0 -5.500 5 -5 q3 -1.500 4.500 1 q-1 2 -4 2 q-3 0 -3.500 3.500z" fill="#3d2b26"/>
  </g>
  <!-- person 3 blue shirt maroon trousers -->
  <g>
    <rect x="817.500" y="679" width="4.600" height="28" fill="#6d2a4a"/><rect x="823.500" y="679" width="4.600" height="28" fill="#6d2a4a"/>
    <rect x="816" y="706.500" width="7" height="2.300" rx="1" fill="#7a4a3a"/><rect x="823.500" y="706.500" width="7" height="2.300" rx="1" fill="#7a4a3a"/>
    <path d="M816 681 v-15 q0 -5 4 -5 h5.500 q4 0 4 5 v15z" fill="#4a55b5"/>
    <rect x="814.500" y="663" width="3" height="14" rx="1.500" fill="#4a55b5"/><rect x="828.500" y="663" width="3" height="14" rx="1.500" fill="#e9b99a"/>
    <rect x="820.500" y="657" width="3.500" height="5" fill="#e9b99a"/>
    <circle cx="822" cy="654" r="4" fill="#e9b99a"/>
    <path d="M817.800 653.500 q0 -5 4.500 -4.800 q3.500 0 4 3 q-3 0 -5 -0.500 q-2 0 -3.500 2.300z" fill="#6b3a26"/>
  </g>
  <!-- person 4 mustard top, orange trousers -->
  <g>
    <rect x="838.500" y="682" width="4.600" height="25" fill="#d87a1e"/><rect x="844.500" y="682" width="4.600" height="25" fill="#d87a1e"/>
    <rect x="837" y="706.500" width="7" height="2.300" rx="1" fill="#222"/><rect x="844.500" y="706.500" width="7" height="2.300" rx="1" fill="#222"/>
    <path d="M837.500 685 v-21 q0 -5 4 -5 h5 q4 0 4 5 v21z" fill="#d99b1f"/>
    <rect x="832" y="665" width="8" height="2.800" rx="1.400" fill="#e9b99a"/><rect x="834" y="671" width="8" height="2.800" rx="1.400" fill="#e9b99a"/>
    <rect x="842.500" y="655" width="3.500" height="5" fill="#e9b99a"/>
    <circle cx="844.500" cy="652" r="4" fill="#e9b99a"/>
    <path d="M840.500 652 q0 -5.500 5 -5 q4.500 0 4 6 v7 h-2.500 v-8 q-3.500 0 -4.500 -2 q-1 0 -2 2z" fill="#8c4a30"/>
  </g>
  <!-- person 5 brown jacket -->
  <g>
    <rect x="856.500" y="679" width="5" height="28" fill="#1d2430"/><rect x="863" y="679" width="5" height="28" fill="#1d2430"/>
    <rect x="854" y="706.500" width="8" height="2.300" rx="1" fill="#7a4a3a"/><rect x="863" y="706.500" width="8" height="2.300" rx="1" fill="#7a4a3a"/>
    <path d="M854.500 682 v-21 q0 -6 5 -6 h6 q5 0 5 6 v21z" fill="#b5502f"/>
    <rect x="860.500" y="656" width="3.500" height="14" fill="#f3efe8"/>
    <path d="M868.500 660 l4 -12 l3 1 l-3 14z" fill="#b5502f"/><circle cx="874" cy="646.500" r="2" fill="#e9b99a"/>
    <rect x="861.500" y="650.500" width="4" height="5" fill="#e9b99a"/>
    <circle cx="864" cy="647.500" r="4.200" fill="#e9b99a"/>
    <path d="M860 647 q-1 -6 4.500 -6 q4 -0.500 5 3 q-3 1.500 -6 0.500 q-2.500 0 -3.500 2.500z" fill="#2b201c"/>
  </g>
  <!-- person 6 white t-shirt -->
  <g>
    <rect x="882.500" y="677" width="5" height="30" fill="#34507a"/><rect x="889" y="677" width="5" height="30" fill="#34507a"/>
    <rect x="881" y="706.500" width="7" height="2.300" rx="1" fill="#7a4a3a"/><rect x="889" y="706.500" width="7" height="2.300" rx="1" fill="#7a4a3a"/>
    <path d="M881 679 v-17 q0 -6 5 -6 h5 q5 0 5 6 v17z" fill="#fff"/>
    <path d="M882 663 l-10 -6 l1 -2.500 l11 4z" fill="#e9b99a"/><rect x="895" y="661" width="3" height="12" rx="1.500" fill="#e9b99a"/>
    <path d="M897 672 l4 -10 l2 0.500 l-3 11z" fill="#e9b99a"/>
    <rect x="886.500" y="651" width="4" height="5.500" fill="#e9b99a"/>
    <circle cx="889.500" cy="648" r="4.200" fill="#e9b99a"/>
    <path d="M885.500 647.500 q-1 -6 4.500 -6 q4 -0.500 5 3 q-3 1.500 -6 0.500 q-2.500 0 -3.500 2.500z" fill="#3d2b26"/>
  </g>
</g>

<!-- ===== ambulance ===== -->
<g>
  <rect x="1076" y="638.500" width="83" height="6" fill="#e8401c"/>
  <rect x="1062.500" y="643.500" width="98" height="47" fill="#e8401c"/>
  <!-- cab -->
  <path d="M1160 643.500 L1166 646 L1185 664 L1204 672 Q1211 675 1211.500 683 L1211.500 692.500 L1160 692.500Z" fill="#e8401c"/>
  <rect x="1062.500" y="689" width="149" height="3.500" fill="#d8391a"/>
  <!-- stripes -->
  <rect x="1062.500" y="644.500" width="102" height="4.200" fill="#f7c81e"/>
  <path d="M1062.500 671 H1170 C1190 672 1203 676 1211 684 L1211 688 C1203 680 1190 676 1170 675.200 H1062.500Z" fill="#f7c81e"/>
  <rect x="1077" y="688.500" width="22" height="2.500" fill="#f7c81e"/><rect x="1124" y="688.500" width="56" height="2.500" fill="#f7c81e"/><rect x="1203" y="688.500" width="8.500" height="2.500" fill="#f7c81e"/>
  <rect x="1094" y="668" width="36" height="3" fill="#3b4450"/>
  <!-- door lines -->
  <g stroke="#b8341a" stroke-width="1"><path d="M1078.500 648.500v41M1093 648.500v41M1130 648.500v41M1154.500 648.500v41"/></g>
  <rect x="1159" y="645" width="1.600" height="45" fill="#2b2f36"/>
  <!-- windows -->
  <rect x="1065" y="650.500" width="9.500" height="13.500" rx="1" fill="#3d4752"/>
  <rect x="1133.500" y="650.500" width="16.500" height="11.500" rx="1" fill="#3d4752"/>
  <path d="M1165 655.500 L1175 655.500 L1190.500 671 L1165 671Z" fill="#3d4752"/>
  <!-- light -->
  <rect x="1162" y="640.500" width="4.500" height="4.500" fill="#1f78c8"/>
  <ellipse cx="1207.500" cy="679" rx="2" ry="3" fill="#d9dde2" transform="rotate(-30 1207.500 679)"/>
  <!-- wheels -->
  <circle cx="1111.500" cy="693.500" r="10.500" fill="#e8401c"/><circle cx="1193" cy="693.500" r="10.500" fill="#e8401c"/>
  <circle cx="1111.500" cy="694.500" r="8.500" fill="#4a545f"/><circle cx="1111.500" cy="694.500" r="4" fill="#8b949d"/>
  <circle cx="1193" cy="694.500" r="8.500" fill="#4a545f"/><circle cx="1193" cy="694.500" r="4" fill="#8b949d"/>
  <rect x="1064" y="691" width="14" height="2" fill="#555"/>
</g>
<!-- stretcher + paramedics -->
<g>
  <!-- stretcher -->
  <g stroke="#fff" stroke-width="2" fill="none" stroke-linecap="round">
    <path d="M1009.500 663 L1025 672.500 H1052"/><path d="M1000 673.500 H1050"/>
    <path d="M1029 673.500 L1026 699 M1031 673.500 L1048 699 M1046 673.500 L1036 689"/>
  </g>
  <circle cx="1026" cy="700.500" r="2.200" fill="#777"/><circle cx="1048.500" cy="700.500" r="2.200" fill="#777"/>
  <path d="M1021 663 Q1035 659.500 1047 664.500 L1050 668.500 L1026 669Z" fill="#8a8a80"/>
  <polygon points="1010,661.500 1027,671 1050,671 1050,668 1028,668 1012.500,659.500" fill="#e8401c"/>
  <circle cx="1017.500" cy="657.500" r="3.200" fill="#d9a07c"/><path d="M1014.500 656.500 q1 -3.500 4.500 -3 q2 0.500 2 2 q-3 -0.500 -6.500 1z" fill="#5a3320"/>
  <!-- medic A -->
  <path d="M992 681 l-3 21 h4 l4.500 -16 l4 16 h4 l-2.500 -21z" fill="#16181c"/>
  <rect x="987.500" y="701.500" width="7" height="2.300" rx="1" fill="#111"/><rect x="1000.500" y="701.500" width="7" height="2.300" rx="1" fill="#111"/>
  <path d="M991.500 681 l1 -17 q1 -5.500 6 -5.500 h3 q5 0 5.500 5.500 l1 17z" fill="#e8401c"/>
  <path d="M995 664 l-2 9 l14 2 v-3 l-10 -2 l1.500 -5z" fill="#d8391a"/><rect x="993.500" y="669.500" width="4" height="1.800" fill="#222"/>
  <circle cx="1008" cy="674" r="1.800" fill="#e9b99a"/>
  <rect x="1000.500" y="655" width="3.500" height="4.500" fill="#e9b99a"/>
  <circle cx="1003" cy="652.500" r="3.800" fill="#e9b99a"/>
  <path d="M999 652.500 q-0.500 -5 4 -5 q3.500 -0.300 4 2.500 q-2.500 1 -5 0.500 q-2 0 -3 2z" fill="#2b201c"/>
  <!-- medic B -->
  <rect x="1052.500" y="680" width="4" height="22" fill="#16181c"/><rect x="1057.500" y="680" width="4" height="22" fill="#16181c"/>
  <rect x="1051" y="701.500" width="6.500" height="2.300" rx="1" fill="#111"/><rect x="1057.500" y="701.500" width="6.500" height="2.300" rx="1" fill="#111"/>
  <path d="M1050.500 681 v-16 q0 -5 5 -5 h2.500 q5 0 5 5 v16z" fill="#e8401c"/>
  <path d="M1052 664 l-8 6 l1.500 2 l8.500 -4z" fill="#e8401c"/>
  <rect x="1054" y="656" width="3.500" height="4.500" fill="#e9b99a"/>
  <circle cx="1055.500" cy="653.500" r="3.800" fill="#e9b99a"/>
  <path d="M1052 654.500 q-1 -5.500 4 -5.500 q4 0 3.800 4 l-1 2.500 q-1 -3 -3 -3 q-2.500 0 -3.800 2z" fill="#5a2f20"/>
</g>
<!--TEAL2END-->


<!-- header -->
<rect x="20" y="0" width="1240" height="43" fill="#06467e"/>
<rect x="20" y="43" width="1240" height="8" fill="#000"/>
<rect x="20" y="51" width="1240" height="2" fill="#0b4c84"/>
<text x="54.300" y="31" font-size="35.400" font-weight="bold" fill="#fff" textLength="486" lengthAdjust="spacingAndGlyphs">Die neue Drohnen-Verordnung</text>

<!-- tape -->
<polygon points="718.0,715.6 718.1,714.0 718.1,712.5 718.1,711.0 718.2,709.5 718.2,707.9 718.2,706.3 718.3,704.6 718.3,702.9 718.4,701.1 718.5,699.2 718.6,697.3 718.8,695.3 718.9,693.4 719.0,691.4 719.2,689.4 719.4,687.4 719.5,685.3 719.7,683.2 719.9,681.1 720.0,678.9 720.2,676.7 720.4,674.5 720.5,672.3 720.7,670.0 720.8,667.6 721.0,665.1 721.2,662.4 721.5,659.5 721.7,656.3 722.1,653.0 722.4,649.4 722.8,645.5 723.3,641.3 723.7,636.9 724.2,632.4 724.8,627.7 725.3,623.1 725.9,618.4 726.5,613.9 727.2,609.5 727.8,605.3 728.5,601.1 729.2,596.9 730.0,592.8 730.7,588.6 731.5,584.5 732.4,580.4 733.3,576.3 734.2,572.2 735.2,568.1 736.3,564.0 737.4,560.0 738.5,556.0 739.7,552.0 741.0,548.1 742.2,544.3 743.4,540.5 744.7,536.7 745.9,533.0 747.2,529.3 748.4,525.5 749.7,521.8 751.0,518.0 752.2,514.3 753.5,510.6 754.9,506.9 756.2,503.2 757.5,499.5 758.9,495.9 760.3,492.2 761.6,488.6 763.0,484.9 764.5,481.2 765.9,477.6 767.3,473.9 768.8,470.2 770.3,466.6 771.8,463.0 773.3,459.4 774.9,455.9 776.4,452.4 778.0,448.9 779.6,445.5 781.2,442.2 782.8,438.9 784.4,435.6 786.0,432.4 787.6,429.2 789.2,426.0 790.7,422.8 792.3,419.6 793.9,416.3 795.5,413.0 797.1,409.7 798.7,406.4 800.4,403.1 802.1,399.8 803.8,396.4 805.6,393.1 807.3,389.8 809.1,386.5 811.0,383.3 812.8,380.1 814.6,376.9 816.5,373.8 818.4,370.7 820.3,367.5 822.2,364.4 824.1,361.3 826.1,358.3 828.0,355.2 830.0,352.1 832.0,349.0 834.0,345.8 836.0,342.7 838.1,339.6 840.2,336.5 842.3,333.4 844.5,330.4 846.7,327.4 848.9,324.4 851.1,321.5 853.3,318.7 855.5,316.0 857.7,313.3 859.9,310.6 862.1,308.0 864.2,305.5 866.4,302.9 868.5,300.4 870.6,297.9 872.7,295.3 874.9,292.8 877.0,290.2 879.1,287.7 881.3,285.2 883.4,282.7 885.6,280.2 887.8,277.7 890.0,275.1 892.2,272.6 894.4,270.1 896.7,267.5 898.9,265.0 901.2,262.5 903.5,259.9 905.8,257.4 908.1,254.9 910.4,252.3 912.7,249.8 915.1,247.3 917.4,244.8 919.8,242.2 922.2,239.7 924.6,237.2 927.0,234.6 929.4,232.1 931.9,229.6 934.3,227.1 936.7,224.5 939.2,222.1 941.5,219.6 943.9,217.1 946.4,214.6 948.8,212.1 951.4,209.5 954.0,207.0 956.6,204.3 959.4,201.7 962.3,199.0 965.3,196.3 968.4,193.5 971.5,190.7 974.7,188.0 977.9,185.2 981.2,182.4 984.5,179.6 987.9,176.8 991.2,174.1 994.6,171.3 997.9,168.6 1001.3,165.9 1004.7,163.3 1008.2,160.7 1011.6,158.1 1015.0,155.4 1018.5,152.8 1022.0,150.2 1025.5,147.6 1029.0,145.0 1032.6,142.3 1036.2,139.6 1039.8,136.8 1043.6,134.0 1047.3,131.2 1051.2,128.4 1055.0,125.6 1058.9,122.9 1062.8,120.2 1066.7,117.5 1070.6,114.9 1074.6,112.5 1078.4,110.1 1082.3,107.8 1086.1,105.5 1089.9,103.3 1093.7,101.1 1097.4,99.0 1101.1,96.8 1104.8,94.6 1108.5,92.4 1112.2,90.1 1116.0,87.8 1119.8,85.5 1123.6,83.2 1127.4,80.9 1131.2,78.6 1135.0,76.4 1138.8,74.1 1142.5,72.0 1146.1,69.9 1149.6,68.0 1152.9,66.1 1156.3,64.2 1159.7,62.3 1163.2,60.4 1166.9,58.4 1170.8,56.4 1175.0,54.3 1179.6,52.2 1184.5,49.8 1189.7,47.5 1195.2,45.0 1200.9,42.5 1206.8,40.0 1212.6,37.5 1218.4,35.0 1224.2,32.6 1229.7,30.2 1235.0,27.9 1240.1,25.6 1245.1,23.4 1250.1,21.2 1255.0,19.1 1259.8,16.9 1264.6,14.8 1269.4,12.7 1274.2,10.6 1279.1,8.4 1283.9,6.3 1296.1,33.7 1291.2,35.9 1286.4,38.0 1281.5,40.1 1276.7,42.2 1271.9,44.4 1267.1,46.5 1262.2,48.7 1257.2,50.8 1252.2,53.1 1247.0,55.3 1241.6,57.7 1236.0,60.1 1230.3,62.6 1224.4,65.1 1218.6,67.6 1212.9,70.0 1207.3,72.5 1202.0,74.8 1197.0,77.1 1192.4,79.2 1188.2,81.3 1184.4,83.2 1180.8,85.1 1177.4,86.8 1174.1,88.6 1170.9,90.4 1167.7,92.2 1164.4,94.0 1161.0,96.0 1157.5,98.0 1153.8,100.1 1150.2,102.2 1146.6,104.4 1142.9,106.6 1139.1,108.9 1135.4,111.2 1131.6,113.5 1127.8,115.8 1124.0,118.1 1120.2,120.4 1116.4,122.7 1112.5,124.9 1108.8,127.1 1105.0,129.3 1101.3,131.4 1097.6,133.6 1094.0,135.8 1090.4,138.0 1086.8,140.2 1083.3,142.5 1079.7,144.9 1076.2,147.4 1072.5,150.0 1068.9,152.6 1065.2,155.3 1061.5,158.1 1057.9,160.8 1054.2,163.6 1050.6,166.3 1047.0,169.0 1043.4,171.7 1039.9,174.3 1036.5,176.8 1033.1,179.4 1029.7,181.9 1026.4,184.5 1023.1,187.0 1019.9,189.6 1016.6,192.1 1013.4,194.7 1010.2,197.3 1007.0,199.9 1003.8,202.6 1000.6,205.3 997.4,208.0 994.3,210.6 991.3,213.3 988.3,215.9 985.4,218.5 982.7,221.0 980.0,223.5 977.5,225.9 975.0,228.3 972.6,230.7 970.2,233.1 967.8,235.6 965.5,238.0 963.1,240.5 960.7,242.9 958.3,245.5 955.8,247.9 953.4,250.4 951.1,252.9 948.7,255.4 946.3,257.8 944.0,260.3 941.7,262.8 939.4,265.2 937.1,267.7 934.8,270.2 932.5,272.7 930.2,275.1 928.0,277.6 925.7,280.1 923.5,282.5 921.3,285.0 919.1,287.5 916.9,289.9 914.7,292.4 912.5,294.9 910.4,297.3 908.3,299.8 906.2,302.2 904.1,304.7 902.0,307.1 899.9,309.6 897.8,312.1 895.7,314.5 893.6,317.0 891.5,319.6 889.4,322.2 887.2,324.7 885.1,327.3 883.0,329.8 880.9,332.4 878.8,334.9 876.8,337.4 874.8,340.0 872.8,342.5 870.8,345.1 868.9,347.8 866.9,350.6 865.0,353.4 863.0,356.3 861.1,359.2 859.1,362.2 857.2,365.2 855.3,368.2 853.3,371.2 851.4,374.2 849.6,377.2 847.7,380.2 845.9,383.2 844.1,386.2 842.3,389.2 840.5,392.1 838.8,395.1 837.0,398.1 835.3,401.2 833.7,404.2 832.0,407.2 830.4,410.3 828.8,413.4 827.2,416.6 825.6,419.8 824.0,423.0 822.5,426.2 820.9,429.5 819.3,432.7 817.7,436.0 816.1,439.3 814.5,442.5 812.9,445.7 811.3,448.9 809.8,452.0 808.2,455.2 806.7,458.3 805.2,461.5 803.8,464.7 802.3,467.9 800.9,471.2 799.5,474.6 798.0,478.0 796.6,481.5 795.2,485.0 793.8,488.5 792.4,492.1 791.1,495.7 789.7,499.2 788.3,502.8 787.0,506.3 785.7,509.9 784.4,513.5 783.1,517.0 781.8,520.6 780.6,524.2 779.3,527.8 778.1,531.4 776.9,535.1 775.6,538.7 774.4,542.4 773.2,546.2 771.9,549.9 770.7,553.5 769.5,557.2 768.4,560.9 767.3,564.5 766.2,568.1 765.2,571.7 764.3,575.4 763.4,579.1 762.5,582.8 761.7,586.6 760.9,590.4 760.2,594.2 759.5,598.1 758.8,602.0 758.1,606.0 757.5,610.0 756.8,614.0 756.2,618.1 755.6,622.4 755.1,626.7 754.6,631.2 754.0,635.7 753.6,640.1 753.1,644.4 752.7,648.5 752.3,652.4 751.9,656.0 751.6,659.2 751.3,662.1 751.1,664.8 750.9,667.3 750.7,669.7 750.6,672.0 750.4,674.3 750.3,676.5 750.1,678.8 750.0,681.1 749.8,683.4 749.6,685.6 749.4,687.7 749.3,689.8 749.1,691.8 749.0,693.7 748.8,695.6 748.7,697.4 748.6,699.1 748.5,700.8 748.4,702.5 748.3,704.1 748.3,705.6 748.2,707.1 748.2,708.6 748.1,710.1 748.1,711.7 748.1,713.2 748.0,714.8 748.0,716.4" fill="url(#tapebg)"/>
<g clip-path="url(#tapeclip)" stroke="#c4141a" stroke-width="15.5" fill="none"><line x1="1243.9" y1="-50.0" x2="2093.9" y2="800.0" stroke-width="15.6"/><line x1="1195.5" y1="-50.0" x2="2045.5" y2="800.0" stroke-width="15.6"/><line x1="1147.1" y1="-50.0" x2="1997.1" y2="800.0" stroke-width="15.6"/><line x1="953.5" y1="-50.0" x2="1803.5" y2="800.0" stroke-width="15.6"/><line x1="905.1" y1="-50.0" x2="1755.1" y2="800.0" stroke-width="15.6"/><line x1="856.7" y1="-50.0" x2="1706.7" y2="800.0" stroke-width="15.6"/><line x1="808.3" y1="-50.0" x2="1658.3" y2="800.0" stroke-width="15.6"/><line x1="759.9" y1="-50.0" x2="1609.9" y2="800.0" stroke-width="15.6"/><line x1="711.5" y1="-50.0" x2="1561.5" y2="800.0" stroke-width="15.6"/><line x1="663.1" y1="-50.0" x2="1513.1" y2="800.0" stroke-width="15.6"/><line x1="614.7" y1="-50.0" x2="1464.7" y2="800.0" stroke-width="15.6"/><line x1="566.3" y1="-50.0" x2="1416.3" y2="800.0" stroke-width="15.6"/><line x1="517.9" y1="-50.0" x2="1367.9" y2="800.0" stroke-width="15.6"/><line x1="469.5" y1="-50.0" x2="1319.5" y2="800.0" stroke-width="15.6"/><line x1="421.1" y1="-50.0" x2="1271.1" y2="800.0" stroke-width="15.6"/><line x1="372.7" y1="-50.0" x2="1222.7" y2="800.0" stroke-width="15.6"/><line x1="324.3" y1="-50.0" x2="1174.3" y2="800.0" stroke-width="15.4"/><line x1="275.9" y1="-50.0" x2="1125.9" y2="800.0" stroke-width="15.1"/><line x1="227.5" y1="-50.0" x2="1077.5" y2="800.0" stroke-width="14.8"/><line x1="179.1" y1="-50.0" x2="1029.1" y2="800.0" stroke-width="14.5"/><line x1="130.7" y1="-50.0" x2="980.7" y2="800.0" stroke-width="14.1"/><line x1="82.3" y1="-50.0" x2="932.3" y2="800.0" stroke-width="13.8"/><line x1="33.9" y1="-50.0" x2="883.9" y2="800.0" stroke-width="13.5"/><line x1="-14.5" y1="-50.0" x2="835.5" y2="800.0" stroke-width="13.2"/><line x1="-62.9" y1="-50.0" x2="787.1" y2="800.0" stroke-width="13.2"/><line x1="-111.3" y1="-50.0" x2="738.7" y2="800.0" stroke-width="13.2"/><line x1="-159.7" y1="-50.0" x2="690.3" y2="800.0" stroke-width="13.2"/></g>
<!--TAPESTART-->
<!-- FLUGVERBOT -->
<g fill="#c4141a">
  <g transform="translate(1134.600,80) rotate(-27.500)"><rect x="-9" y="-2.600" width="18" height="5.200"/></g>
  <g transform="translate(1166,63.300) rotate(-27.500)"><rect x="-9" y="-2.600" width="18" height="5.200"/></g>
  <g transform="translate(1198,46.700) rotate(-27.500)"><rect x="-9" y="-2.600" width="18" height="5.200"/></g>
  <g transform="translate(1153,99) rotate(-27.500)"><rect x="-9" y="-2.600" width="18" height="5.200"/></g>
  <g transform="translate(1185.400,82) rotate(-27.500)"><rect x="-9" y="-2.600" width="18" height="5.200"/></g>
  <g transform="translate(1217.500,65.800) rotate(-27.500)"><rect x="-9" y="-2.600" width="18" height="5.200"/></g>
  <text transform="translate(1132,101) rotate(-26.600)" font-size="15" font-weight="bold" textLength="97" lengthAdjust="spacingAndGlyphs">FLUGVERBOT</text>
</g>
<!-- no-drone sign -->
<g>
  <circle cx="1038.500" cy="154" r="46" fill="#dde2ee"/>
  <g fill="#2469a6">
    <path d="M1003 133.200 L1017 132.400 L1031 133.400 L1017 134.400Z M1045 133 L1060 132 L1075 133 L1060 134Z"/>
    <rect x="1003.500" y="131.500" width="6.500" height="14" rx="2"/><rect x="1065" y="131.500" width="6.500" height="14" rx="2"/>
    <rect x="1003.500" y="147" width="8" height="9" rx="1.500"/><rect x="1064" y="147" width="8" height="9" rx="1.500"/>
    <rect x="1005" y="149.500" width="66" height="5.500" rx="1"/>
    <path d="M1028 150.500 C1028 138 1052 138 1052 150.500Z"/>
    <rect x="1030" y="154" width="18" height="6"/>
    <g fill="none" stroke="#2469a6" stroke-width="2.600" stroke-linejoin="round"><path d="M1031 158 L1029 163 L1019 166 L1017.500 177"/><path d="M1047 158 L1049 163 L1058 166 L1059.500 175"/></g>
    <path d="M1028 176 a10 10 0 0 1 20 0" fill="none" stroke="#2469a6" stroke-width="2"/>
    <rect x="1026.500" y="173" width="3" height="6" rx="1"/><rect x="1046.500" y="173" width="3" height="6" rx="1"/>
    <circle cx="1038" cy="176" r="7.600"/>
    <rect x="1034" y="160" width="8" height="8" rx="1.500"/>
  </g>
  <circle cx="1038.500" cy="154" r="45.600" fill="none" stroke="#c4141a" stroke-width="8.400"/>
  <path d="M1007.500 123.500 L1070.500 183.500" stroke="#c4141a" stroke-width="8" fill="none"/>
</g>
<!--TAPEEND-->

<!--GROUNDSTART-->
<path d="M238 709 H900 C940 708.500 975 704.500 1010 703.700 L1260 702.500 V720 H238Z" fill="#6fa19d"/>
<!--GROUNDEND-->
<!--LEFT1START-->
<!-- ===== white aerobatic loops ===== -->
<g fill="none" stroke="#fff" stroke-opacity="0.6" stroke-width="2" stroke-linecap="round">
  <path d="M648 180 C649 230 649 300 648 352 C647 420 649 470 650 520"/>
  <path d="M657 256 C670 230 680 200 676 160 C672 110 660 70 636 68 C610 68 590 120 590 165 C590 200 596 225 605 260 C615 300 640 330 648 352 C660 390 650 430 630 460 C612 485 590 470 580 440 C572 410 578 380 600 350 C612 332 622 310 620 285"/>
  <path d="M648 352 C640 390 640 420 652 470 C656 490 660 505 661 520"/>
</g>
<g fill="#fff" fill-opacity="0.6">
  <ellipse cx="598" cy="218" rx="4.500" ry="7"/><ellipse cx="598" cy="208" rx="3" ry="4"/><ellipse cx="598" cy="228" rx="3" ry="4"/>
  <ellipse cx="648" cy="197" rx="4.500" ry="8"/><ellipse cx="648" cy="186" rx="3" ry="4"/><ellipse cx="648" cy="208" rx="3.500" ry="4"/>
  <ellipse cx="648" cy="352" rx="5" ry="8"/><ellipse cx="648" cy="342" rx="3" ry="4"/><ellipse cx="648" cy="362" rx="3.500" ry="4"/>
  <ellipse cx="577" cy="408" rx="5" ry="7"/><ellipse cx="577" cy="399" rx="3" ry="3.500"/><ellipse cx="577" cy="418" rx="3.500" ry="4"/>
</g>

<!-- trails -->
<g fill="#a1b6d0">
  <polygon points="203.3,384.4 201.1,386.5 199.0,388.5 196.8,390.5 194.6,392.5 192.4,394.7 190.1,397.0 187.9,399.7 185.7,402.7 183.4,406.2 180.9,410.2 178.5,414.5 176.2,419.0 174.0,423.5 172.0,427.9 170.3,432.2 168.9,436.0 167.9,439.5 167.1,442.8 166.7,445.8 166.4,448.8 166.3,451.6 166.5,454.5 166.7,457.3 167.1,460.3 167.6,463.3 168.3,466.3 169.0,469.2 170.0,472.2 171.2,475.3 172.5,478.4 174.2,481.5 176.1,484.8 178.3,488.2 180.7,491.8 183.4,495.5 186.4,499.3 189.5,503.0 192.8,506.7 196.2,510.2 199.8,513.4 203.6,516.5 207.7,519.3 212.0,522.0 216.4,524.6 220.8,527.1 225.0,529.5 229.1,532.0 232.9,534.6 236.5,537.2 240.1,539.9 243.6,542.6 247.0,545.3 250.2,548.0 253.2,550.7 256.0,553.3 258.7,555.8 261.0,558.3 263.3,560.8 265.3,563.2 267.2,565.6 268.8,567.9 270.3,570.1 271.6,572.2 272.7,574.3 273.6,576.2 274.4,577.8 274.9,579.4 275.2,580.8 275.4,582.2 275.4,583.7 275.3,585.3 274.9,587.1 274.4,589.1 273.8,591.2 273.0,593.4 272.0,595.6 270.8,597.9 269.3,600.2 267.6,602.4 265.6,604.7 263.3,606.9 260.5,609.2 257.3,611.5 253.9,613.9 250.4,616.3 246.8,618.7 243.3,621.1 239.9,623.5 236.6,625.8 233.2,628.3 229.7,630.7 226.3,633.1 222.9,635.5 219.7,637.9 216.8,640.3 214.2,642.6 211.9,644.9 209.9,647.2 208.1,649.4 206.6,651.6 205.2,653.7 204.0,655.9 203.0,658.0 202.2,660.0 201.5,662.1 201.1,664.1 201.0,666.1 201.0,668.1 201.2,669.9 201.5,671.7 201.9,673.5 202.4,675.2 203.0,676.9 203.8,678.5 204.7,680.0 205.7,681.4 206.7,682.8 207.8,684.2 208.8,685.7 209.7,687.2 210.6,688.8 211.5,690.5 212.4,692.2 213.3,694.0 214.2,695.8 215.2,697.5 216.1,699.3 217.0,701.1 218.6,700.3 217.7,698.5 216.9,696.7 216.0,694.9 215.2,693.1 214.3,691.2 213.4,689.5 212.6,687.7 211.7,686.0 210.8,684.4 209.8,682.9 208.8,681.4 207.8,680.0 206.9,678.6 206.1,677.2 205.5,675.9 205.0,674.4 204.7,672.8 204.4,671.2 204.2,669.6 204.0,667.9 204.1,666.3 204.3,664.6 204.7,662.9 205.2,661.2 206.0,659.4 207.0,657.5 208.1,655.6 209.5,653.6 211.0,651.6 212.7,649.6 214.6,647.5 216.8,645.4 219.3,643.2 222.1,640.9 225.2,638.6 228.5,636.2 231.9,633.8 235.4,631.4 238.8,628.9 242.1,626.5 245.4,624.2 248.9,621.8 252.5,619.4 256.1,617.0 259.5,614.6 262.8,612.2 265.8,609.8 268.4,607.3 270.6,604.8 272.4,602.3 274.0,599.8 275.4,597.3 276.5,594.8 277.4,592.4 278.1,590.1 278.7,587.9 279.0,585.8 279.2,583.9 279.2,582.0 279.0,580.1 278.5,578.3 277.9,576.5 277.1,574.6 276.1,572.5 274.9,570.3 273.5,568.1 271.9,565.7 270.2,563.3 268.3,560.8 266.1,558.3 263.8,555.7 261.3,553.2 258.7,550.6 255.7,547.9 252.6,545.2 249.4,542.4 246.0,539.7 242.4,536.9 238.8,534.2 235.1,531.4 231.2,528.8 227.0,526.2 222.7,523.8 218.3,521.3 214.0,518.8 209.8,516.2 205.8,513.4 202.2,510.6 198.8,507.4 195.5,504.1 192.3,500.5 189.3,496.9 186.5,493.2 183.8,489.6 181.4,486.1 179.3,482.8 177.5,479.7 176.0,476.7 174.7,473.8 173.6,471.0 172.7,468.2 172.0,465.4 171.4,462.6 170.9,459.7 170.5,456.9 170.2,454.2 170.1,451.6 170.2,449.0 170.4,446.3 170.9,443.5 171.6,440.5 172.5,437.2 173.8,433.5 175.5,429.4 177.4,425.1 179.6,420.7 181.9,416.3 184.2,412.0 186.3,408.0 188.3,404.5 190.2,401.4 192.2,398.7 194.1,396.3 196.1,394.0 198.1,391.8 200.1,389.6 202.1,387.4 204.1,385.0"/><polygon points="290.6,361.7 289.0,363.9 287.3,366.0 285.5,368.2 283.7,370.4 282.1,372.6 280.5,374.9 279.3,377.2 278.3,379.5 277.7,381.8 277.3,384.1 277.2,386.4 277.3,388.7 277.7,391.0 278.4,393.4 279.4,395.9 280.9,398.5 282.8,401.2 285.1,404.0 287.8,406.8 290.7,409.7 293.9,412.6 297.1,415.5 300.4,418.5 303.7,421.4 307.2,424.5 310.9,427.5 314.8,430.7 318.8,433.8 322.8,437.0 326.6,440.1 330.3,443.3 333.7,446.4 336.9,449.5 340.1,452.5 343.2,455.5 346.1,458.5 348.9,461.5 351.4,464.6 353.8,467.7 355.9,471.0 357.7,474.4 359.4,478.0 360.9,481.8 362.2,485.6 363.3,489.4 364.3,493.2 365.0,496.8 365.6,500.3 366.0,503.6 366.3,506.7 366.3,509.7 366.2,512.7 365.9,515.6 365.4,518.5 364.9,521.5 364.2,524.5 363.3,527.6 362.3,530.6 361.2,533.7 359.9,536.7 358.5,539.8 356.9,542.9 355.2,545.9 353.4,549.0 351.4,552.0 349.0,555.1 346.5,558.2 343.8,561.3 341.1,564.4 338.4,567.5 335.8,570.7 333.5,573.9 331.3,577.0 329.1,580.2 327.0,583.3 325.0,586.5 323.1,589.7 321.3,592.9 319.7,596.1 318.3,599.3 317.0,602.5 315.9,605.7 314.9,608.9 314.1,612.1 313.4,615.3 312.9,618.5 312.5,621.7 312.2,624.9 312.1,628.1 312.1,631.3 312.2,634.5 312.5,637.6 312.8,640.8 313.3,644.0 313.9,647.2 314.6,650.3 315.5,653.6 316.6,656.9 317.9,660.1 319.3,663.3 320.7,666.5 322.0,669.5 323.0,672.5 323.8,675.3 324.4,677.9 324.7,680.4 324.9,682.9 325.0,685.3 325.0,687.7 325.0,690.1 325.0,692.5 325.1,695.0 326.9,695.0 326.9,692.5 326.9,690.1 327.0,687.7 327.0,685.3 327.0,682.8 326.9,680.3 326.6,677.6 326.2,674.7 325.4,671.7 324.3,668.7 323.1,665.5 321.8,662.3 320.5,659.1 319.3,655.9 318.2,652.7 317.4,649.7 316.8,646.6 316.3,643.5 316.0,640.4 315.7,637.4 315.5,634.3 315.5,631.2 315.5,628.2 315.8,625.1 316.1,622.1 316.5,619.0 317.1,616.0 317.8,612.9 318.6,609.9 319.5,606.8 320.5,603.8 321.7,600.7 323.1,597.7 324.7,594.6 326.4,591.6 328.2,588.5 330.2,585.4 332.3,582.3 334.4,579.2 336.5,576.1 338.8,573.0 341.3,570.0 344.0,566.9 346.7,563.7 349.4,560.6 352.0,557.4 354.4,554.2 356.6,551.0 358.5,547.8 360.3,544.6 361.9,541.5 363.4,538.3 364.7,535.1 365.9,531.9 367.0,528.7 367.8,525.5 368.6,522.3 369.2,519.2 369.6,516.1 370.0,512.9 370.1,509.8 370.1,506.5 369.8,503.2 369.4,499.7 368.8,496.1 368.0,492.3 367.0,488.4 365.8,484.4 364.5,480.4 362.9,476.5 361.1,472.7 359.1,469.0 356.9,465.6 354.4,462.2 351.7,459.0 348.9,455.9 345.9,452.8 342.8,449.8 339.6,446.7 336.3,443.6 332.8,440.4 329.1,437.2 325.2,434.0 321.2,430.9 317.2,427.7 313.3,424.6 309.7,421.6 306.3,418.6 303.0,415.6 299.6,412.7 296.4,409.8 293.3,406.9 290.5,404.1 288.0,401.4 285.8,398.9 284.1,396.5 282.8,394.2 281.9,392.1 281.4,390.2 281.0,388.3 281.0,386.4 281.1,384.5 281.4,382.5 281.7,380.5 282.2,378.4 283.1,376.2 284.2,374.0 285.6,371.7 287.1,369.3 288.6,367.0 290.1,364.6 291.4,362.3"/><polygon points="447.0,367.5 446.9,368.7 446.6,369.7 446.2,370.7 445.8,371.9 445.6,373.3 445.7,375.0 446.3,376.8 447.5,378.7 449.4,380.7 451.8,382.6 454.5,384.5 457.4,386.5 460.4,388.7 463.3,391.0 466.1,393.5 468.5,396.2 470.9,399.2 473.2,402.6 475.5,406.1 477.8,409.9 480.0,413.7 482.0,417.7 484.0,421.7 485.7,425.7 487.4,429.8 488.9,434.1 490.4,438.5 491.7,443.0 492.9,447.5 493.9,451.9 494.8,456.2 495.6,460.3 496.3,464.3 496.8,468.1 497.2,471.8 497.5,475.4 497.6,479.0 497.6,482.6 497.4,486.2 497.1,489.8 496.6,493.5 496.0,497.1 495.2,500.8 494.3,504.5 493.2,508.2 492.0,511.9 490.7,515.6 489.2,519.3 487.7,523.0 485.9,526.7 484.0,530.4 481.9,534.1 479.8,537.8 477.6,541.5 475.5,545.3 473.4,549.1 471.2,552.8 468.9,556.5 466.5,560.2 464.2,564.0 461.8,567.8 459.6,571.6 457.6,575.4 455.8,579.2 454.2,583.1 452.7,587.0 451.4,590.9 450.3,594.8 449.3,598.7 448.4,602.5 447.7,606.2 447.1,609.7 446.8,613.2 446.6,616.4 446.6,619.5 446.8,622.6 447.0,625.6 447.4,628.7 447.9,631.9 448.5,635.3 449.2,638.9 450.1,642.6 451.1,646.5 452.2,650.4 453.4,654.3 454.5,658.1 455.5,661.8 456.3,665.2 457.0,668.6 457.5,671.8 458.0,674.9 458.4,677.9 458.8,681.0 459.2,684.0 459.7,687.0 460.1,690.1 461.9,689.9 461.5,686.8 461.2,683.8 460.9,680.7 460.6,677.7 460.2,674.6 459.8,671.4 459.3,668.2 458.7,664.8 457.9,661.2 457.0,657.4 456.0,653.5 454.9,649.6 453.9,645.7 453.0,641.9 452.1,638.2 451.5,634.7 451.1,631.4 450.7,628.3 450.4,625.3 450.2,622.4 450.2,619.5 450.2,616.6 450.5,613.5 450.9,610.3 451.4,606.8 452.1,603.2 452.9,599.6 453.9,595.8 455.0,592.0 456.3,588.2 457.7,584.5 459.2,580.8 461.0,577.1 462.9,573.4 465.1,569.7 467.4,566.0 469.8,562.3 472.1,558.5 474.5,554.7 476.6,550.9 478.8,547.2 480.9,543.5 483.1,539.7 485.3,535.9 487.3,532.1 489.3,528.3 491.1,524.5 492.8,520.7 494.2,516.9 495.6,513.1 496.8,509.3 497.9,505.5 498.9,501.7 499.7,497.9 500.4,494.0 500.9,490.2 501.2,486.4 501.4,482.7 501.4,478.9 501.3,475.2 501.0,471.4 500.6,467.6 500.0,463.7 499.4,459.7 498.6,455.5 497.6,451.1 496.5,446.6 495.3,442.0 494.0,437.4 492.5,432.9 490.9,428.5 489.3,424.3 487.4,420.1 485.4,416.0 483.3,411.9 481.1,408.0 478.8,404.1 476.4,400.4 473.9,397.0 471.5,393.8 468.7,390.8 465.8,388.1 462.7,385.7 459.6,383.5 456.7,381.4 454.1,379.5 452.0,377.8 450.5,376.3 449.4,375.0 448.8,374.0 448.4,373.1 448.3,372.1 448.2,371.1 448.3,370.0 448.2,368.7 448.0,367.5"/>
</g>
<!-- ===== aerobatic plane ===== -->
<g>
  <ellipse cx="649" cy="117.500" rx="8.500" ry="3.200" fill="#fff" fill-opacity="0.850"/>
  <polygon points="630.500,141 646,134.800 646,148 631,153" fill="#7590ba"/>
  <polygon points="652,131.500 676,125.500 676.500,139 652,146.500" fill="#8098c1"/>
  <path d="M649 120 Q652.800 122 653 132 L652.500 158 L651.500 174 L649.500 180 L647.500 174 L645.500 158 L645 132 Q645.200 122 649 120Z" fill="#1c4b82"/>
  <polygon points="640.500,168 648,164.500 648,175.500 641,176" fill="#3d68a0"/>
  <polygon points="650,164 656,163 656.500,169.500 650,172.500" fill="#8098c1"/>
</g>

<!-- ===== hexacopter with camera ===== -->
<g fill="#1c4b82">
  <polygon points="695.600,329 699.200,329 698,610 697,610" fill="url(#polefade)"/>
  <path d="M648 291.500 L680 290 L696.500 291 L713 290 L745.500 291.500 L713 292 L696.500 291.800 L680 292Z"/>
  <rect x="660" y="299" width="73" height="3.200"/>
  <rect x="661" y="292" width="4" height="9" rx="1"/><rect x="677.500" y="292" width="4" height="9" rx="1"/><rect x="712" y="292" width="4" height="9" rx="1"/><rect x="728" y="292" width="4" height="9" rx="1"/>
  <rect x="662" y="289.500" width="2" height="3"/><rect x="678.500" y="289.500" width="2" height="3"/><rect x="713" y="289.500" width="2" height="3"/><rect x="729" y="289.500" width="2" height="3"/>
  <path d="M688 300 C688 285.500 705 285.500 705 300 C705 311 688 311 688 300Z"/>
  <path d="M690 305 C681 309 679 318 681.500 326.500 L684 326 C682.500 319 684.500 312.500 692 308.500Z"/>
  <path d="M703 305 C712 309 714 318 711.500 326.500 L709 326 C710.500 319 708.500 312.500 701 308.500Z"/>
  <rect x="690" y="315.500" width="13.500" height="10" rx="1.500"/><rect x="693.500" y="313.500" width="6" height="3"/>
  <circle cx="696.800" cy="320.500" r="2.600" fill="#d5dbea"/>
  <g fill="#d5dbea"><circle cx="686.500" cy="310.500" r="0.900"/><circle cx="684" cy="314.500" r="0.900"/><circle cx="683" cy="319" r="0.900"/><circle cx="707" cy="310.500" r="0.900"/><circle cx="709.500" cy="314.500" r="0.900"/><circle cx="710.500" cy="319" r="0.900"/></g>
</g>

<!-- ===== sign "Modellflugplatz" ===== -->
<g>
  <rect x="556" y="481" width="4" height="228" fill="#9fb4d0"/>
  <rect x="556" y="481" width="22" height="3.600" fill="#9fb4d0"/>
  <path d="M577 482.500 L586 471 Q630 478 679 494 L675 504.500 Q630 494 586 491Z" fill="#a9bdd5" stroke="#8aa2c0" stroke-width="1"/>
  <text transform="translate(591,486.500) rotate(9.500)" font-size="11.500" font-weight="bold" font-style="italic" fill="#1c4b82" textLength="77" lengthAdjust="spacingAndGlyphs">Modellflugplatz</text>
</g>

<!-- ===== texts ===== -->
<text class="lbl" x="58" y="200" textLength="124" lengthAdjust="spacingAndGlyphs">ab 100 m Flughöhe</text>
<line x1="58" y1="207.500" x2="542" y2="207.500" stroke="#c4242a" stroke-width="1.700" stroke-dasharray="11 10.500"/>
<text class="lbl" x="57" y="229" textLength="394" lengthAdjust="spacingAndGlyphs">Generell dürfen Drohnen nur in Sichtweite geflogen werden</text>
<text x="339" y="153" font-size="17" font-weight="bold" fill="#17477d" textLength="137" lengthAdjust="spacingAndGlyphs">gewichtsunabhängig</text>
<text class="lbl" x="570" y="532.500" textLength="117.500" lengthAdjust="spacingAndGlyphs">Mit Ausnahme der</text>
<text class="lbl" x="570" y="552.500" textLength="150" lengthAdjust="spacingAndGlyphs">Kennzeichnungspflicht</text>
<text class="lbl" x="570" y="572" textLength="154.500" lengthAdjust="spacingAndGlyphs">von den Neuregelungen</text>
<text class="lbl" x="570" y="592" textLength="66" lengthAdjust="spacingAndGlyphs">unberührt</text>

<!-- weights -->
<g font-weight="bold" fill="#17477d" stroke="#17477d" stroke-width="0.500">
  <text x="155.300" y="585.500" font-size="15.500" textLength="15.500" lengthAdjust="spacingAndGlyphs">ab</text>
  <text x="175.300" y="585.500" font-size="40" textLength="66" lengthAdjust="spacingAndGlyphs" stroke-width="0.900">0,25</text>
  <text x="248.300" y="585.500" font-size="22.500" textLength="21.500" lengthAdjust="spacingAndGlyphs">kg</text>
  <text x="303.800" y="585.500" font-size="15.500" textLength="15.500" lengthAdjust="spacingAndGlyphs">ab</text>
  <text x="323.800" y="585.500" font-size="40" textLength="19.500" lengthAdjust="spacingAndGlyphs" stroke-width="0.900">2</text>
  <text x="349.300" y="585.500" font-size="22.500" textLength="21.500" lengthAdjust="spacingAndGlyphs">kg</text>
  <text x="426.300" y="585.500" font-size="15.500" textLength="15.500" lengthAdjust="spacingAndGlyphs">ab</text>
  <text x="446.300" y="585.500" font-size="40" textLength="19" lengthAdjust="spacingAndGlyphs" stroke-width="0.900">5</text>
  <text x="471.800" y="585.500" font-size="22.500" textLength="21.500" lengthAdjust="spacingAndGlyphs">kg</text>
</g>

<!--LEFT1END-->
<!--LEFT2START-->
<!-- stamp 4 -->
<g transform="translate(266,154) rotate(-12.800)">
  <rect x="-65.500" y="-19" width="131" height="38" fill="none" stroke="#c4141a" stroke-width="2.800"/>
  <text class="stamp" x="0" y="-1.500" textLength="122" lengthAdjust="spacingAndGlyphs">GRUNDSÄTZLICH</text>
  <text class="stamp" x="0" y="14.500" textLength="77" lengthAdjust="spacingAndGlyphs">VERBOTEN</text>
</g>
<circle cx="208" cy="189.500" r="6.300" fill="#c4141a"/><circle cx="208" cy="189.500" r="6.900" fill="none" stroke="#fff" stroke-width="0.900"/>
<text x="208" y="193" font-size="9" font-weight="bold" fill="#fff" text-anchor="middle">4</text>

<!-- ===== DRONE 4 (top, tilted) ===== -->
<g transform="translate(325,100) rotate(-11)" fill="#1c4b82">
  <ellipse cx="-46" cy="-9.500" rx="23" ry="1.400"/><ellipse cx="46" cy="-9.500" rx="23" ry="1.400"/>
  <rect x="-50" y="-10" width="8" height="23" rx="3.500"/><rect x="42" y="-10" width="8" height="23" rx="3.500"/>
  <rect x="-47.500" y="-13" width="3" height="4" rx="1"/><rect x="44.500" y="-13" width="3" height="4" rx="1"/>
  <path d="M-46 0 L-8 -3 Q0 -9 8 -3 L46 0 L46 5 L8 5 Q0 9 -8 5 L-46 5Z"/>
  <ellipse cx="0" cy="0" rx="10" ry="8.500"/>
  <g fill="none" stroke="#1c4b82" stroke-width="2.800" stroke-linecap="round">
    <path d="M-4 6 C-11 12 -21 22 -25 37"/>
    <path d="M6 7 C14 9 22 19 25 35"/>
  </g>
  <rect x="23.500" y="34" width="3.500" height="4" rx="1"/>
  <rect x="-3" y="9" width="8" height="9" rx="1.500"/>
  <path d="M-5 21 q0 -3 3 -3 h7 q3 0 3 3 v8 q0 3 -3 3 h-7 q-3 0 -3 -3z"/>
</g>
<!-- ===== stamp 1 ===== -->
<g transform="translate(136,369) rotate(-12.300)">
  <rect x="-75" y="-21" width="150" height="42" fill="none" stroke="#c4141a" stroke-width="2.800"/>
  <text class="stamp" x="0" y="-2" textLength="141" lengthAdjust="spacingAndGlyphs">KENNZEICHNUNGS-</text>
  <text class="stamp" x="0" y="15.500" textLength="64" lengthAdjust="spacingAndGlyphs">PFLICHT</text>
</g>
<circle cx="68.500" cy="405.500" r="6.300" fill="#c4141a"/><circle cx="68.500" cy="405.500" r="6.900" fill="none" stroke="#fff" stroke-width="0.900"/>
<text x="68.500" y="409" font-size="9" font-weight="bold" fill="#fff" text-anchor="middle">1</text>

<!-- ===== DRONE 1 (small) ===== -->
<g fill="#1c4b82" stroke="none">
  <g stroke="#1c4b82" stroke-width="2.200" stroke-linecap="round" fill="none">
    <path d="M222.200 372.200 L194.500 367.300"/><path d="M220 377.800 L196 374.500"/>
    <path d="M232.200 377.800 L255.500 386.700"/><path d="M230 382.200 L251.700 391.700"/>
  </g>
  <circle cx="226.700" cy="375.600" r="6.300"/>
  <circle cx="226.700" cy="375.600" r="6.600" fill="none" stroke="#1c4b82" stroke-width="1.400" stroke-dasharray="2.200 1.250"/>
  <circle cx="226.700" cy="375.600" r="4.200" fill="#245a95"/>
  <!-- motors & props -->
  <rect x="-2.800" y="-2.200" width="5.600" height="4.400" rx="1" transform="translate(196.700,364.800) rotate(17)"/>
  <rect x="-2.800" y="-2.200" width="5.600" height="4.400" rx="1" transform="translate(256.700,385) rotate(20)"/>
  <path d="M185.500 358.300 L197 362 L208.500 365.800 L196.400 363.700Z"/>
  <path d="M245.500 378.300 L257 382.300 L269.500 386.300 L256.400 384Z"/>
  <!-- legs -->
  <ellipse cx="193" cy="372" rx="1.900" ry="5.200" transform="rotate(14 193 372)" fill="#c9d3e4" stroke="#1c4b82" stroke-width="1.300"/>
  <ellipse cx="253.400" cy="393.600" rx="2.100" ry="6" transform="rotate(14 253.400 393.600)" fill="#c9d3e4" stroke="#1c4b82" stroke-width="1.300"/>
  <!-- camera -->
  <path d="M216.800 387 Q220.500 382.500 225.500 385" fill="none" stroke="#1c4b82" stroke-width="1.400"/>
  <circle cx="221.100" cy="388.900" r="3.400"/><circle cx="220.600" cy="388.600" r="1.500" fill="#5f86b8"/>
</g>

<!-- ===== DRONE 2 (medium) ===== -->
<g fill="#1c4b82">
  <g transform="translate(296,307) rotate(-5.500)">
    <ellipse cx="-53" cy="-11" rx="34" ry="1.700"/><ellipse cx="54" cy="-12" rx="34" ry="1.700"/>
    <rect x="-58" y="-13" width="9.500" height="26" rx="2"/><rect x="49" y="-14" width="9.500" height="26" rx="2"/>
    <rect x="-55" y="-18" width="3.500" height="6" rx="1.500"/><rect x="52" y="-19" width="3.500" height="6" rx="1.500"/>
    <rect x="-58" y="2" width="116" height="8.500" rx="1.500"/>
    <path d="M-19 3 C-19 -19 19 -19 19 3Z"/>
    <rect x="-13" y="8" width="26" height="9"/>
  </g>
  <g fill="none" stroke="#1c4b82" stroke-width="3.600" stroke-linejoin="round" stroke-linecap="round">
    <path d="M286 318 L284 328 L272 335 L271 350"/>
    <path d="M308 316 L311 325 L326 331 L329 345"/>
  </g>
  <rect x="294" y="320" width="11" height="9" rx="2"/>
  <path d="M287 343 a13 13 0 0 1 26 0" fill="none" stroke="#1c4b82" stroke-width="2.600"/>
  <rect x="285" y="340" width="4" height="8" rx="1"/><rect x="311" y="340" width="4" height="8" rx="1"/>
  <circle cx="300" cy="343.500" r="10.300"/>
</g>
<!-- stamp 2 -->
<g transform="translate(353.500,360.500) rotate(-15)">
  <rect x="-48" y="-21" width="96" height="42" fill="none" stroke="#c4141a" stroke-width="2.800"/>
  <text class="stamp" x="0" y="-2" textLength="76" lengthAdjust="spacingAndGlyphs">KENNTNIS-</text>
  <text class="stamp" x="0" y="15" textLength="77" lengthAdjust="spacingAndGlyphs">NACHWEIS</text>
</g>
<circle cx="312" cy="391.500" r="6.300" fill="#c4141a"/><circle cx="312" cy="391.500" r="6.900" fill="none" stroke="#fff" stroke-width="0.900"/>
<text x="312" y="395" font-size="9" font-weight="bold" fill="#fff" text-anchor="middle">2</text>

<!-- stamp 3 -->
<g transform="translate(542.500,345.500) rotate(-12.300)">
  <rect x="-52.500" y="-20" width="105" height="40" fill="none" stroke="#c4141a" stroke-width="2.800"/>
  <text class="stamp" x="0" y="-2" textLength="85" lengthAdjust="spacingAndGlyphs">ERLAUBNIS-</text>
  <text class="stamp" x="0" y="15" textLength="60" lengthAdjust="spacingAndGlyphs">PFLICHT</text>
</g>
<circle cx="496.500" cy="378.500" r="6.300" fill="#c4141a"/><circle cx="496.500" cy="378.500" r="6.900" fill="none" stroke="#fff" stroke-width="0.900"/>
<text x="496.500" y="382" font-size="9" font-weight="bold" fill="#fff" text-anchor="middle">3</text>
<!-- ===== DRONE 3 (big) ===== -->
<g fill="#1c4b82">
  <!-- props -->
  <path d="M340 249.500 L380 255 L423 257 L381 251.500Z"/>
  <path d="M510 269 L550 277 L593 279 L551 273.500Z"/>
  <!-- motors -->
  <path d="M376 256 q0 -8 6 -8 q6 0 6 8z"/><rect x="372" y="257" width="20" height="9" rx="2"/><rect x="369" y="264" width="22" height="8.500" rx="2"/>
  <path d="M545 279 q0 -8 6 -8 q6 0 6 8z"/><rect x="541" y="279.500" width="20" height="8" rx="2"/><rect x="543" y="286" width="18" height="8.500" rx="2"/>
  <!-- arms -->
  <path d="M370 265 L420 268.500 L440 266 L440 284 C428 281 415 278.500 405 277 L370 272.500Z"/>
  <path d="M488 270 L502 276 L560 286 L559 294 L498 292 L488 292Z"/>
  <!-- body -->
  <path d="M430 292 C429 270 444 260 463 260 C483 260 497 270 497 294 L495 300 C493 306 489 309 484 309 L442 309 C436 309 433 305 432 299Z"/>
  <!-- legs -->
  <g fill="none" stroke="#1c4b82" stroke-width="5.200" stroke-linecap="round">
    <path d="M433 287 C425 303 420.500 330 418.500 351"/>
    <path d="M494.500 292 C498 315 495.500 340 492 360.500"/>
  </g>
  <!-- gimbal -->
  <rect x="437" y="305" width="47" height="5" rx="1.500"/><rect x="438" y="312" width="45" height="4.500" rx="1.500"/>
  <rect x="442" y="308" width="4" height="5"/><rect x="474" y="308" width="4" height="5"/>
  <rect x="451" y="315" width="15" height="12" rx="2"/>
  <path d="M447 329 h8 v-4 h8 v4 h6 q3 0 3 3 v15 q0 3 -3 3 h-5 q-4 3 -9 0 h-8 q-3 0 -3 -3 v-15 q0 -3 3 -3z"/>
  <rect x="443.500" y="322" width="4" height="14" rx="1.500"/>
</g>
<!--LEFT2END-->
<!--LEFT3START-->
<!-- ===== city ===== -->
<g>
  <!-- distant silhouette -->
  <path d="M20 625 H40 V612 H60 V630 H95 V600 H121 V640 H150 V628 H182 V665 H20Z" fill="#b7c5d6"/>
  <!-- far-left building -->
  <rect x="20" y="581" width="17" height="67" fill="#a9bace"/>
  <g fill="#c9d5e3"><rect x="23" y="587" width="3" height="8"/><rect x="29" y="587" width="3" height="8"/><rect x="23" y="600" width="3" height="8"/><rect x="29" y="600" width="3" height="8"/><rect x="23" y="613" width="3" height="8"/><rect x="29" y="613" width="3" height="8"/><rect x="23" y="626" width="3" height="8"/><rect x="29" y="626" width="3" height="8"/></g>
  <!-- church -->
  <path d="M106.500 519 L115 570 L115 585 L121 601 L121 662 L95 662 L95 601 L98 585 L98 570Z" fill="#8ea6bf"/>
  <path d="M95 601 L121 601 L128 612 L128 662 L95 662Z" fill="#9bb0c7"/>
  <!-- main building -->
  <polygon points="43,580 95,555 95,662 43,662" fill="#7f9bb4"/>
  <polygon points="63,570.500 75,565 75,662 63,662" fill="#c9d5e3"/>
  <g fill="#e8edf4">
    <rect x="47" y="585" width="6" height="8"/><rect x="55" y="585" width="6" height="8"/><rect x="79" y="585" width="6" height="8"/><rect x="87" y="585" width="6" height="8"/>
    <rect x="47" y="606" width="6" height="8"/><rect x="55" y="606" width="6" height="8"/><rect x="79" y="606" width="6" height="8"/><rect x="87" y="606" width="6" height="8"/>
    <rect x="47" y="627" width="6" height="8"/><rect x="55" y="627" width="6" height="8"/><rect x="79" y="627" width="6" height="8"/><rect x="87" y="627" width="6" height="8"/>
    <rect x="47" y="648" width="6" height="9"/><rect x="55" y="648" width="6" height="9"/><rect x="85" y="648" width="6" height="14"/>
    <rect x="42" y="593" width="21" height="5"/><rect x="42" y="614" width="21" height="5"/><rect x="42" y="635" width="21" height="5"/>
  </g>
  <!-- white building -->
  <rect x="110" y="602.500" width="37" height="48" fill="#f4f6fa"/>
  <g fill="#34598f">
    <rect x="113" y="606" width="2.600" height="7"/><rect x="118" y="606" width="2.600" height="7"/><rect x="124.500" y="606" width="2.600" height="7"/><rect x="129.500" y="606" width="2.600" height="7"/><rect x="136" y="606" width="2.600" height="7"/><rect x="141" y="606" width="2.600" height="7"/>
    <rect x="113" y="616" width="2.600" height="7"/><rect x="118" y="616" width="2.600" height="7"/><rect x="124.500" y="616" width="2.600" height="7"/><rect x="129.500" y="616" width="2.600" height="7"/><rect x="136" y="616" width="2.600" height="7"/><rect x="141" y="616" width="2.600" height="7"/>
    <rect x="113" y="626" width="2.600" height="7"/><rect x="118" y="626" width="2.600" height="7"/><rect x="124.500" y="626" width="2.600" height="7"/><rect x="129.500" y="626" width="2.600" height="7"/><rect x="136" y="626" width="2.600" height="7"/><rect x="141" y="626" width="2.600" height="7"/>
    <rect x="113" y="636" width="2.600" height="7"/><rect x="118" y="636" width="2.600" height="7"/><rect x="124.500" y="636" width="2.600" height="7"/><rect x="129.500" y="636" width="2.600" height="7"/>
  </g>
  <!-- right building -->
  <rect x="151.500" y="604" width="29" height="82" fill="#aabbcf"/>
  <rect x="151.500" y="604" width="3" height="82" fill="#c2cfdf"/>
  <g fill="#cdd8e6"><rect x="157" y="609" width="5" height="9"/><rect x="164.500" y="609" width="5" height="9"/><rect x="172" y="609" width="5" height="9"/><rect x="157" y="623" width="5" height="9"/><rect x="164.500" y="623" width="5" height="9"/><rect x="172" y="623" width="5" height="9"/><rect x="157" y="637" width="5" height="9"/><rect x="157" y="651" width="5" height="9"/><rect x="157" y="665" width="5" height="9"/></g>
  <!-- ground -->
  <path d="M185 709 L190 688 C205 680 225 684 245 690 C262 695 275 701 290 709Z" fill="#b9c7d9"/>
  <path d="M20 661 H152 V720 H20Z" fill="#aac6c5"/>
  <!-- hedges / trees -->
  <g fill="#71a29c">
    <path d="M93 661 v-8 q4 -4 8 -1 q4 -4 9 -1 q4 -3 8 0 q5 -3 9 0 q4 -2 8 1 v9z"/>
    <ellipse cx="75" cy="650" rx="8.500" ry="12"/><circle cx="70" cy="657" r="6"/><circle cx="80" cy="657" r="6"/>
    <ellipse cx="138" cy="640" rx="8.500" ry="13"/><circle cx="133" cy="648" r="6"/><circle cx="143" cy="648" r="6"/>
    <rect x="74" y="660" width="2" height="12"/><rect x="137" y="650" width="2" height="12"/>
    <path d="M43 682 v-7 q4 -5 9 -2 q5 -5 10 -1 q5 -4 10 0 q5 -3 9 1 q4 0 5 4 v5z"/>
  </g>
  <!-- front hill -->
  <path d="M20 683 C50 674 100 676 120 690 C122 705 100 716 60 720 H20Z" fill="#8fb6b1"/>
  <path d="M127 720 V690 q3 -8 10 -6 q5 -9 13 -4 q7 -6 13 1 q8 -2 9 6 q3 -7 10 -7 q8 0 10 8 q6 4 8 12 q4 6 4 12 v8z" fill="#7da7a4"/>
</g>
<text x="56.500" y="717" font-size="12" fill="#2f3438" textLength="70" lengthAdjust="spacingAndGlyphs">Quelle: BMVI</text>

<!-- ===== boxes ===== -->
<g>
  <!-- box 1 -->
  <rect x="188.500" y="706" width="33" height="14" fill="#eeecdb"/><rect x="221.500" y="706" width="18" height="14" fill="#c3bea3"/>
  <polygon points="210,684.500 247,684.500 239.500,706 204,706" fill="#b9b395"/>
  <polygon points="213.500,688 241,688 235.500,702.500 208.500,702.500" fill="#efeddd"/>
  <!-- box 2 -->
  <rect x="270.500" y="688.500" width="55" height="20.500" fill="#eeecdb"/><rect x="325.500" y="688.500" width="27" height="20.500" fill="#c3bea3"/>
  <polygon points="308,652 367,652 354,688.500 296,688.500" fill="#b9b395"/>
  <polygon points="312,657 360,657 350,683 302.500,683" fill="#efeddd"/>
  <polygon points="296,688.500 354,688.500 352,694 298,694" fill="#a9a486"/>
  <!-- box 3 -->
  <rect x="376.500" y="693.500" width="70" height="27" fill="#eeecdb"/><rect x="446" y="693.500" width="35" height="27" fill="#c3bea3"/>
  <polygon points="422,647.500 499,647.500 484.500,694.500 410,694.500" fill="#b9b395"/>
  <polygon points="427,653 491.500,653 479.500,688.500 417,688.500" fill="#efeddd"/>
  <polygon points="410,694.500 484.500,694.500 482,701 412,701" fill="#a9a486"/>
</g>
<!-- trail ends over boxes -->
<g fill="#a3b8d1" opacity="0.9"><polygon points="202.5,675.4 203.0,676.2 203.4,677.0 203.8,677.7 204.2,678.5 204.6,679.3 205.0,680.1 205.4,680.9 205.9,681.7 206.3,682.4 206.8,683.0 207.2,683.5 207.6,684.1 208.0,684.6 208.4,685.3 209.0,686.2 209.6,687.2 210.3,688.6 211.1,690.1 212.0,691.8 213.0,693.6 214.0,695.5 215.1,697.4 216.1,699.3 217.1,701.1 218.5,700.3 217.7,698.5 216.8,696.5 215.9,694.6 215.1,692.6 214.2,690.7 213.4,688.9 212.6,687.4 211.8,686.0 211.2,684.8 210.6,683.9 210.1,683.2 209.7,682.5 209.2,682.0 208.9,681.5 208.5,681.0 208.1,680.3 207.7,679.6 207.3,678.9 206.9,678.1 206.5,677.3 206.1,676.6 205.7,675.8 205.3,675.0 204.9,674.2"/><polygon points="314.5,650.5 315.0,652.1 315.4,653.7 315.9,655.4 316.4,657.0 316.9,658.7 317.4,660.3 317.9,661.9 318.5,663.6 319.1,665.1 319.8,666.6 320.6,668.0 321.3,669.3 321.9,670.6 322.5,672.0 323.0,673.6 323.4,675.3 323.7,677.3 323.9,679.6 324.2,682.0 324.4,684.5 324.6,687.2 324.8,689.8 325.0,692.5 325.2,695.0 326.8,695.0 326.8,692.4 326.9,689.8 327.0,687.1 327.1,684.5 327.1,681.9 327.1,679.3 326.9,676.9 326.6,674.7 326.1,672.7 325.5,670.9 324.8,669.3 324.1,667.8 323.4,666.5 322.7,665.2 322.1,663.8 321.5,662.4 321.0,660.9 320.5,659.3 320.0,657.7 319.5,656.1 319.0,654.5 318.5,652.8 318.0,651.2 317.5,649.5"/><polygon points="448.4,635.3 448.8,637.2 449.1,639.0 449.5,640.9 449.8,642.8 450.2,644.7 450.6,646.6 451.0,648.5 451.5,650.4 452.0,652.3 452.5,654.0 453.1,655.7 453.7,657.4 454.3,659.1 454.9,661.0 455.4,663.0 455.9,665.3 456.4,667.9 456.9,670.8 457.4,673.8 458.0,677.0 458.5,680.3 459.1,683.6 459.6,686.9 460.2,690.1 461.8,689.9 461.5,686.7 461.2,683.4 460.9,680.0 460.6,676.7 460.3,673.4 460.0,670.3 459.6,667.4 459.1,664.7 458.5,662.3 457.9,660.1 457.3,658.1 456.7,656.4 456.1,654.7 455.6,653.0 455.0,651.4 454.5,649.6 454.1,647.8 453.7,645.9 453.3,644.1 453.0,642.2 452.6,640.3 452.3,638.5 451.9,636.6 451.6,634.7"/></g>

<!-- ===== person 1 (orange shirt) ===== -->
<g>
  <rect x="167.500" y="672" width="6" height="42" fill="#1f3b5c"/><rect x="175.500" y="672" width="6" height="42" fill="#1f3b5c"/>
  <rect x="165" y="713.500" width="9" height="3" rx="1.200" fill="#8c4a2f"/><rect x="175.500" y="713.500" width="9" height="3" rx="1.200" fill="#8c4a2f"/>
  <path d="M164.500 674 v-26 q0 -7 6 -7 h7 q6 0 6 7 v26z" fill="#e8775a"/>
  <rect x="162.500" y="647" width="4" height="12" rx="2" fill="#e8775a"/>
  <path d="M163 657 l13 4 l-1 3 l-13 -4z" fill="#f0c3a5"/>
  <rect x="169.500" y="636" width="4.500" height="6" fill="#f0c3a5"/>
  <circle cx="168.500" cy="630.500" r="5.300" fill="#f0c3a5"/>
  <path d="M162.500 630 q-1 -7 5 -7.500 q4 -1.500 6.500 1.500 q-2 3 -6 3 q-2 4 -5.500 3z" fill="#2b2f3a"/>
  <rect x="176" y="654.500" width="9" height="6" rx="1" fill="#f4f6f8"/>
  <path d="M181.500 655 L186.500 625 L187.500 625 L183 655Z" fill="#fff"/>
</g>
<!-- ===== person 2 (blue shirt, teal trousers) ===== -->
<g>
  <rect x="274" y="665" width="7" height="42" fill="#1b8a8a"/><rect x="283" y="665" width="7" height="42" fill="#1b8a8a"/>
  <rect x="272" y="706" width="9.500" height="3" rx="1.200" fill="#8c4a2f"/><rect x="283" y="706" width="9.500" height="3" rx="1.200" fill="#8c4a2f"/>
  <path d="M271.500 667 v-25 q0 -7 6 -7 h9 q6 0 6 7 v25z" fill="#7db3e3"/>
  <path d="M271.500 640 q0 -5 5 -5 v13 h-5z" fill="#5f9ad2"/>
  <path d="M271 647 v8 l14 3 v-3.500 l-10 -2.500 v-5z" fill="#7a4a3a"/>
  <rect x="278" y="630" width="4.500" height="6" fill="#7a4a3a"/>
  <circle cx="277.500" cy="625" r="5" fill="#7a4a3a"/>
  <circle cx="275" cy="622" r="6.300" fill="#20222b"/>
  <path d="M277 620 q5 0 5.500 5 q0 4 -3 5 q-3 -4 -2.500 -10z" fill="#7a4a3a"/>
  <path d="M283 653 h14 l1 4 h-15z" fill="#3b4652"/><rect x="286" y="649" width="1.200" height="5" fill="#3b4652"/><rect x="289.500" y="647.500" width="1.200" height="6" fill="#3b4652"/><rect x="293" y="649" width="1.200" height="5" fill="#3b4652"/>
</g>
<!-- ===== person 3 (blonde, blue jacket) ===== -->
<g>
  <path d="M390 667 L409 667 L409.500 713 L402 713 L400 684 L392 712.500 L385 710.500Z" fill="#1f6aa8"/>
  <rect x="381.500" y="709.500" width="10" height="4" rx="1.800" fill="#e2502f" transform="rotate(20 386 711)"/><rect x="400.500" y="713" width="10.500" height="4" rx="1.800" fill="#e2502f"/>
  <path d="M384.500 644 q1 -6 7 -6.500 l7 -0.500 q6 1 7.500 8 l2.500 23 h-19z" fill="#72aadf"/>
  <path d="M393.500 638 l4.500 -0.300 l4 30.500 h-5.500z" fill="#fff"/>
  <path d="M386 646 l1 11 l14 1.500 v-3.500 l-10.500 -1.500 l-1 -7z" fill="#63a0d8"/>
  <rect x="386.500" y="632.500" width="4.500" height="6.500" fill="#f0c3a5" transform="rotate(-15 389 635)"/>
  <circle cx="386" cy="628.500" r="5" fill="#f0c3a5"/>
  <path d="M379.500 630 q-2.500 -9 5 -10 q5.500 -0.500 7 3.500 q-4.500 0 -5.500 2.500 q-1.500 4 -1 7 q0.500 5 -2.500 9 q-2.500 -5 -3 -12z" fill="#eaa53c"/>
  <path d="M398.500 650 h13 l1.500 5 h-14.500z" fill="#3b4652"/><rect x="401.500" y="646" width="1.200" height="5" fill="#3b4652"/><rect x="405" y="644.500" width="1.200" height="6" fill="#3b4652"/><rect x="408.500" y="646" width="1.200" height="5" fill="#3b4652"/>
</g>

<!-- ===== model plane scene ===== -->
<g>
  <!-- shadow figure -->
  <path d="M634 706 V664 Q633 644 640 643 V641 a4.600 4.600 0 1 1 5 0 v2 Q653 644 653 664 V706 h-6 V675 h-6 V706Z" fill="#a9b8c9"/>
  <!-- woman in green -->
  <rect x="669.500" y="662" width="7.500" height="43" fill="#2f9a4a"/><rect x="679.500" y="662" width="7.500" height="43" fill="#2f9a4a"/>
  <rect x="667" y="704" width="10.500" height="3" rx="1.200" fill="#1d1d1d"/><rect x="679" y="704" width="10.500" height="3" rx="1.200" fill="#1d1d1d"/>
  <path d="M666.500 626 q-2 12 -3 18 l3 8 h9 v-18z" fill="#3d9a5c"/>
  <path d="M667 665 l1 -30 q1 -8 8 -8 h4 q7 0 7.500 8 l0.500 30z" fill="#3d9a5c"/>
  <path d="M663 643 l1.500 9 l15 -2 l-0.500 -3.500 l-11 0.500 l-1 -5z" fill="#359054"/>
  <path d="M680 645 q6 -3 12 -1.500 q2 2 0 4 q-6 1 -11 1z" fill="#a7c3dc"/>
  <path d="M684.500 645 L684.800 607 L685.500 607 L685.500 645Z" fill="#b9c6d6"/>
  <rect x="674" y="645" width="6.500" height="4.500" rx="2" fill="#f0c3a5"/>
  <rect x="668" y="621" width="4.500" height="6" fill="#f0c3a5"/>
  <circle cx="667" cy="616.500" r="5" fill="#f0c3a5"/>
  <path d="M661 615 q0 -7 6 -7 q4 0 5 3 q-4 0 -5 3 q-1 10 2 16 q-1 7 -4 9 q-5 -6 -3 -14 q-2 -5 -1 -10z" fill="#a8553a"/>
  <!-- pilot -->
  <rect x="583" y="660" width="8" height="45" fill="#5a6a3a"/><rect x="594" y="660" width="8" height="45" fill="#5a6a3a"/>
  <rect x="582" y="704" width="10" height="4" rx="1.500" fill="#7a3f25"/><rect x="594" y="704" width="10" height="4" rx="1.500" fill="#7a3f25"/>
  <path d="M582 662 l0.500 -22 q2 -12 12 -16 l8 -1 q10 3 13 14 l3 13 l-3 4 l-8 -4 l-1 12z" fill="#5a3a20"/>
  <path d="M596 625 l4 20 l6 -19" fill="none" stroke="#c9a86a" stroke-width="1.200"/>
  <circle cx="589.500" cy="635.500" r="2.500" fill="#c9b04a"/><circle cx="599" cy="638" r="2.300" fill="#9aa6b0"/><path d="M607 636 l3 0 l-1.500 3z" fill="#d9b030"/>
  <path d="M600 652 h16 l2 3 l-3 3 h-14z" fill="#2b3d5c"/>
  <rect x="598" y="651" width="6" height="5" rx="2" fill="#f0c3a5"/>
  <path d="M612 652 L617 637 L617.800 637 L613.500 652Z" fill="#b9c6d6"/>
  <rect x="602" y="617" width="5" height="7" fill="#f0c3a5"/>
  <circle cx="609" cy="614" r="5" fill="#f0c3a5"/>
  <path d="M603 611 q1 -6 8 -5.500 q4 0.500 5 3.500 l7 0.500 l-0.500 1.500 l-8 1 q-6 -2 -11.500 1z" fill="#a86a3a"/>
  <path d="M603 611 q-1 5 1 9 l2 -2 l0 -5z" fill="#3a2a20"/>
  <!-- plane -->
  <rect x="648.600" y="644" width="2.200" height="46" rx="1" fill="#fff" transform="rotate(-6 650 667)"/>
  <path d="M515.500 700 L516 696 L560 684 L600 669 Q630 660 654 664.500 Q658 667.500 654 671 L640 680 Q610 693 560 699 L520 705 Q515 704 515.500 700Z" fill="#1f4f8f"/>
  <path d="M515 696.500 L519 682 L529 679 L537 692Z" fill="#3d6aa6"/>
  <path d="M583 676 Q590 664.500 604 664.500 L613 666 L612 670 Q598 676 583 679Z" fill="#e9edf2" fill-opacity="0.850"/>
  <path d="M560 690 Q600 682 640 672 Q610 688 560 696Z" fill="#2e62a3"/>
  <path d="M538 692 Q548 688 558 687 Q548 693 538 695Z" fill="#3d6aa6"/>
  <ellipse cx="653" cy="667" rx="3.500" ry="3" fill="#163d73"/>
  <path d="M621 688 l3 -1 l4 10 h-4z" fill="#1f4f8f"/>
  <path d="M612 702 Q613 697 622 696.500 L634 697 Q637 700 634 703 L616 705.500 Q612 705 612 702Z" fill="#1f4f8f"/>
  <circle cx="627.500" cy="706" r="3.800" fill="#2b3038"/><circle cx="627.500" cy="706" r="1.600" fill="#9aa6b0"/>
  <circle cx="529" cy="707" r="2" fill="#2b3038"/>
</g>
<!--LEFT3END-->

<!-- ground -->
</g>
</svg>
</body>
</html>
